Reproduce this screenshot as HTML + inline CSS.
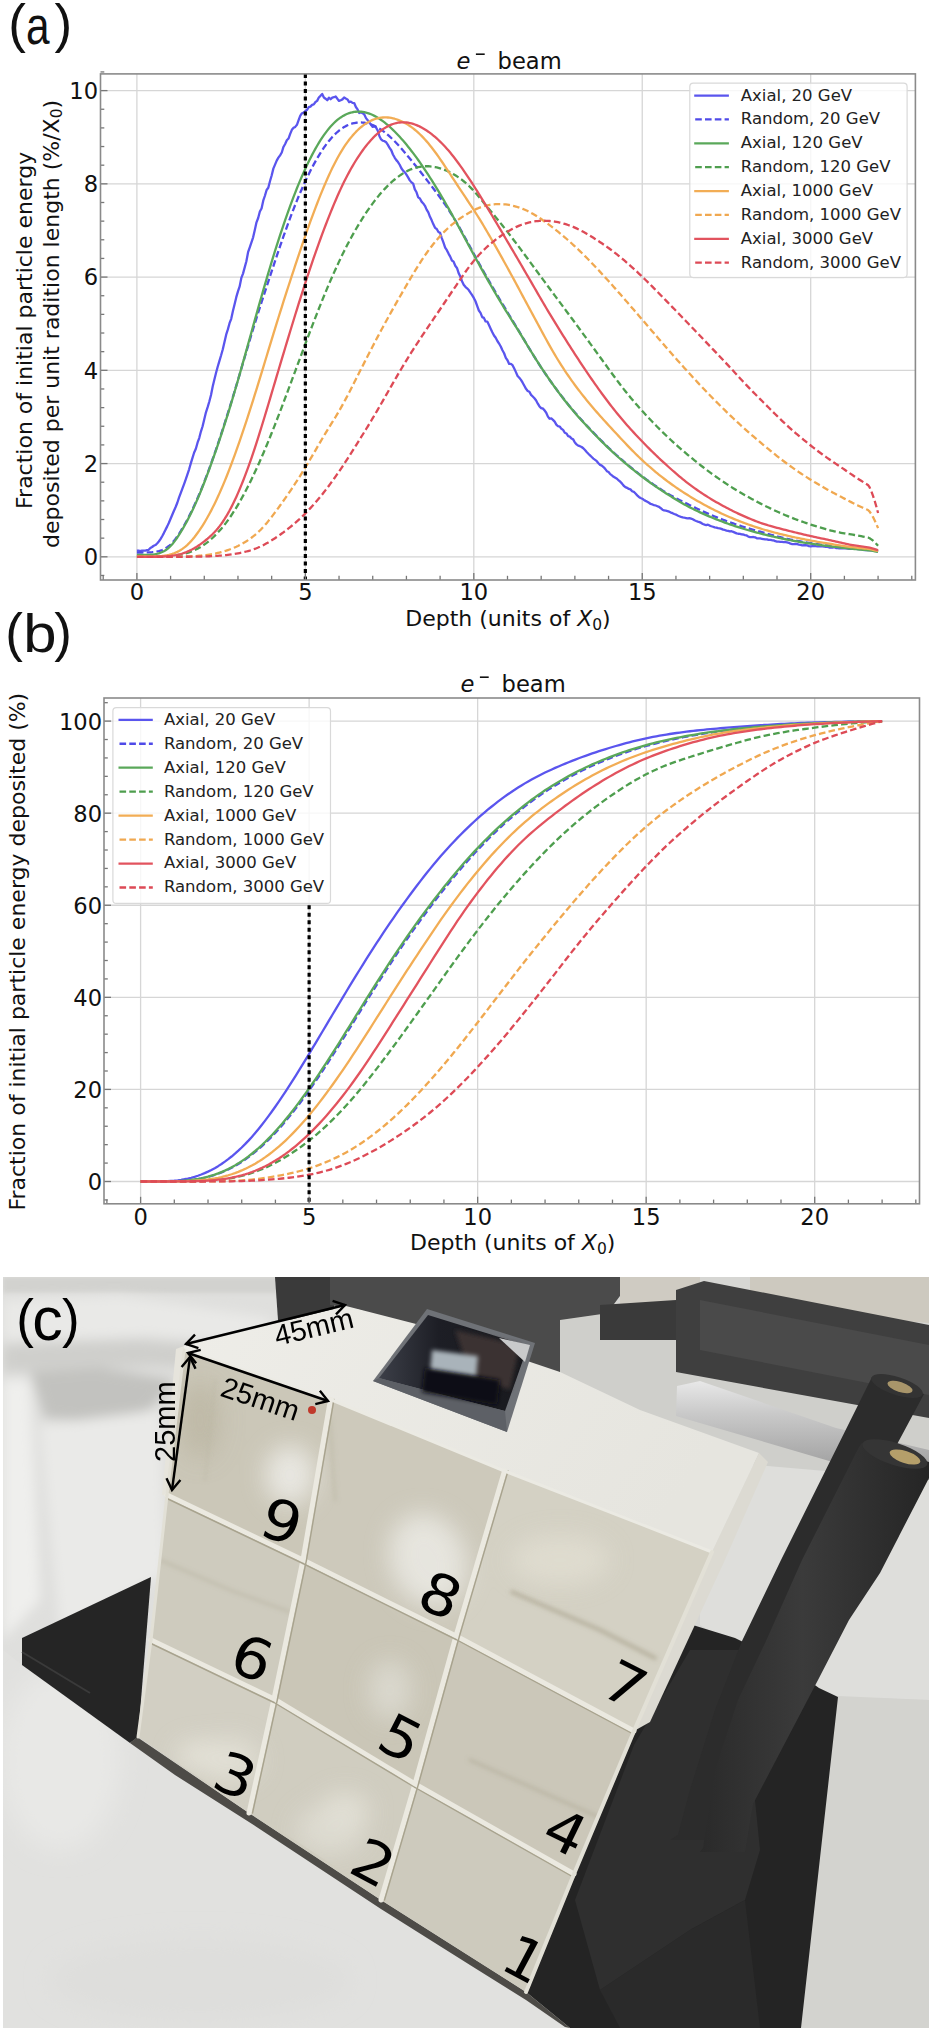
<!DOCTYPE html>
<html><head><meta charset="utf-8"><style>
html,body{margin:0;padding:0;background:#fff;}
body{width:932px;height:2031px;overflow:hidden;}
svg{display:block;}
.tk{font-family:"DejaVu Sans",sans-serif;font-size:22.6px;fill:#111;}
.lg{font-family:"DejaVu Sans",sans-serif;font-size:16.5px;fill:#222;}
.yl{font-size:22px;}
.pl{font-family:"Liberation Sans",Arial,sans-serif;font-size:53px;fill:#111;}
</style></head><body>
<svg width="932" height="2031" viewBox="0 0 932 2031">
<defs><clipPath id="ca"><rect x="100.5" y="73.9" width="814.9" height="506.1"/></clipPath><clipPath id="cb"><rect x="104" y="698" width="815.5" height="505.8"/></clipPath></defs>
<text x="8.2" y="42" class="pl">(</text><text x="0" y="0" class="pl" font-size="59" transform="translate(26,44.2) scale(0.8,1)">a</text><text x="54.6" y="42" class="pl">)</text>
<line x1="136.90" y1="73.9" x2="136.90" y2="580.0" stroke="#d6d6d6" stroke-width="1.3"/>
<line x1="305.35" y1="73.9" x2="305.35" y2="580.0" stroke="#d6d6d6" stroke-width="1.3"/>
<line x1="473.80" y1="73.9" x2="473.80" y2="580.0" stroke="#d6d6d6" stroke-width="1.3"/>
<line x1="642.25" y1="73.9" x2="642.25" y2="580.0" stroke="#d6d6d6" stroke-width="1.3"/>
<line x1="810.70" y1="73.9" x2="810.70" y2="580.0" stroke="#d6d6d6" stroke-width="1.3"/>
<line x1="100.5" y1="556.80" x2="915.4" y2="556.80" stroke="#d6d6d6" stroke-width="1.3"/>
<line x1="100.5" y1="463.56" x2="915.4" y2="463.56" stroke="#d6d6d6" stroke-width="1.3"/>
<line x1="100.5" y1="370.32" x2="915.4" y2="370.32" stroke="#d6d6d6" stroke-width="1.3"/>
<line x1="100.5" y1="277.08" x2="915.4" y2="277.08" stroke="#d6d6d6" stroke-width="1.3"/>
<line x1="100.5" y1="183.84" x2="915.4" y2="183.84" stroke="#d6d6d6" stroke-width="1.3"/>
<line x1="100.5" y1="90.60" x2="915.4" y2="90.60" stroke="#d6d6d6" stroke-width="1.3"/>
<g clip-path="url(#ca)" fill="none" stroke-width="2.3" stroke-linejoin="round">
<path d="M136.90,550.68 L138.58,550.57 L140.27,551.07 L141.95,550.55 L143.64,550.54 L145.32,550.60 L147.01,550.20 L148.69,549.84 L150.38,548.03 L152.06,547.02 L153.75,545.74 L155.43,545.04 L157.11,543.47 L158.80,541.54 L160.48,539.18 L162.17,536.25 L163.85,533.12 L165.54,529.63 L167.22,526.36 L168.91,522.70 L170.59,518.82 L172.27,514.76 L173.96,510.80 L175.64,507.03 L177.33,502.74 L179.01,497.61 L180.70,493.03 L182.38,488.57 L184.07,484.08 L185.75,479.39 L187.44,474.39 L189.12,469.31 L190.80,463.40 L192.49,457.84 L194.17,452.48 L195.86,448.79 L197.54,442.70 L199.23,438.02 L200.91,431.58 L202.60,426.25 L204.28,419.21 L205.96,412.30 L207.65,407.17 L209.33,401.52 L211.02,394.96 L212.70,386.54 L214.39,379.45 L216.07,372.70 L217.76,366.47 L219.44,360.80 L221.12,355.27 L222.81,349.19 L224.49,341.91 L226.18,334.71 L227.86,329.41 L229.55,323.21 L231.23,318.79 L232.92,310.99 L234.60,304.32 L236.29,297.15 L237.97,291.36 L239.65,286.37 L241.34,277.91 L243.02,273.58 L244.71,267.34 L246.39,261.23 L248.08,252.23 L249.76,247.32 L251.45,242.44 L253.13,237.27 L254.81,230.01 L256.50,222.34 L258.18,218.03 L259.87,211.56 L261.55,208.45 L263.24,200.70 L264.92,195.75 L266.61,189.97 L268.29,187.77 L269.98,181.30 L271.66,175.50 L273.34,168.61 L275.03,164.60 L276.71,160.61 L278.40,157.67 L280.08,155.38 L281.77,152.52 L283.45,146.95 L285.14,143.95 L286.82,140.32 L288.50,138.56 L290.19,133.89 L291.87,129.82 L293.56,127.82 L295.24,126.89 L296.93,124.85 L298.61,120.19 L300.30,115.63 L301.98,113.28 L303.67,112.64 L305.35,111.17 L307.03,109.81 L308.72,107.13 L310.40,106.60 L312.09,104.85 L313.77,104.40 L315.46,102.02 L317.14,100.88 L318.83,97.52 L320.51,95.83 L322.19,93.96 L323.88,97.54 L325.56,98.72 L327.25,100.27 L328.93,97.67 L330.62,99.29 L332.30,97.64 L333.99,97.23 L335.67,96.54 L337.36,98.80 L339.04,100.91 L340.72,100.21 L342.41,99.37 L344.09,97.52 L345.78,98.59 L347.46,99.42 L349.15,102.19 L350.83,101.56 L352.52,102.82 L354.20,103.05 L355.88,107.04 L357.57,109.39 L359.25,112.95 L360.94,112.25 L362.62,113.19 L364.31,114.50 L365.99,118.12 L367.68,120.16 L369.36,122.47 L371.05,124.89 L372.73,126.93 L374.41,126.13 L376.10,127.63 L377.78,130.73 L379.47,136.23 L381.15,139.45 L382.84,140.74 L384.52,141.20 L386.21,142.32 L387.89,144.87 L389.57,147.95 L391.26,150.29 L392.94,154.47 L394.63,157.52 L396.31,160.12 L398.00,162.06 L399.68,164.74 L401.37,168.29 L403.05,170.63 L404.74,172.22 L406.42,174.68 L408.10,177.40 L409.79,180.37 L411.47,182.38 L413.16,183.70 L414.84,189.39 L416.53,192.27 L418.21,197.36 L419.90,198.47 L421.58,201.66 L423.26,203.42 L424.95,205.80 L426.63,209.64 L428.32,212.39 L430.00,216.83 L431.69,220.35 L433.37,224.34 L435.06,227.84 L436.74,229.01 L438.43,232.06 L440.11,232.84 L441.79,238.08 L443.48,242.59 L445.16,247.66 L446.85,250.19 L448.53,253.59 L450.22,256.61 L451.90,260.48 L453.59,261.65 L455.27,265.77 L456.95,267.95 L458.64,273.13 L460.32,276.51 L462.01,281.20 L463.69,284.77 L465.38,286.82 L467.06,288.28 L468.75,290.06 L470.43,292.63 L472.12,295.06 L473.80,297.92 L475.48,301.25 L477.17,305.90 L478.85,310.51 L480.54,312.88 L482.22,317.09 L483.91,317.88 L485.59,321.41 L487.28,321.61 L488.96,325.09 L490.64,328.65 L492.33,332.18 L494.01,335.49 L495.70,337.80 L497.38,341.00 L499.07,343.55 L500.75,346.52 L502.44,350.27 L504.12,353.26 L505.81,357.94 L507.49,360.21 L509.17,363.95 L510.86,363.78 L512.54,365.22 L514.23,368.59 L515.91,372.12 L517.60,376.00 L519.28,377.73 L520.97,379.90 L522.65,382.68 L524.33,385.75 L526.02,388.83 L527.70,390.94 L529.39,391.73 L531.07,394.84 L532.76,396.52 L534.44,398.29 L536.13,400.47 L537.81,403.67 L539.50,406.46 L541.18,408.16 L542.86,408.50 L544.55,410.39 L546.23,412.78 L547.92,416.60 L549.60,418.75 L551.29,418.39 L552.97,419.89 L554.66,421.62 L556.34,424.60 L558.02,426.24 L559.71,426.53 L561.39,428.82 L563.08,429.89 L564.76,432.73 L566.45,433.49 L568.13,436.13 L569.82,436.63 L571.50,438.55 L573.19,439.36 L574.87,442.47 L576.55,444.37 L578.24,445.64 L579.92,446.17 L581.61,446.97 L583.29,448.25 L584.98,450.01 L586.66,451.99 L588.35,453.77 L590.03,455.41 L591.71,457.03 L593.40,458.62 L595.08,459.82 L596.77,461.17 L598.45,463.18 L600.14,464.92 L601.82,465.64 L603.51,467.04 L605.19,468.85 L606.88,471.17 L608.56,471.99 L610.24,474.14 L611.93,475.36 L613.61,476.79 L615.30,477.80 L616.98,478.79 L618.67,480.46 L620.35,481.77 L622.04,483.64 L623.72,485.75 L625.40,487.09 L627.09,487.84 L628.77,488.91 L630.46,489.37 L632.14,491.23 L633.83,491.82 L635.51,493.57 L637.20,495.37 L638.88,496.95 L640.57,497.97 L642.25,498.69 L643.93,499.93 L645.62,500.87 L647.30,501.71 L648.99,502.75 L650.67,503.97 L652.36,504.47 L654.04,505.04 L655.73,505.51 L657.41,506.20 L659.09,506.92 L660.78,508.23 L662.46,509.70 L664.15,510.46 L665.83,510.72 L667.52,511.07 L669.20,511.63 L670.89,512.58 L672.57,513.20 L674.26,514.03 L675.94,514.58 L677.62,515.48 L679.31,516.25 L680.99,516.83 L682.68,517.32 L684.36,517.73 L686.05,518.02 L687.73,518.36 L689.42,518.10 L691.10,518.61 L692.78,519.29 L694.47,520.31 L696.15,521.00 L697.84,521.59 L699.52,522.10 L701.21,522.91 L702.89,523.98 L704.58,524.61 L706.26,525.13 L707.95,524.73 L709.63,525.58 L711.31,526.23 L713.00,526.75 L714.68,527.36 L716.37,527.58 L718.05,528.10 L719.74,528.35 L721.42,528.89 L723.11,529.65 L724.79,529.97 L726.47,530.59 L728.16,530.93 L729.84,531.44 L731.53,531.22 L733.21,531.85 L734.90,532.58 L736.58,533.33 L738.27,533.76 L739.95,533.91 L741.64,534.43 L743.32,534.49 L745.00,535.07 L746.69,535.49 L748.37,536.64 L750.06,537.05 L751.74,537.06 L753.43,537.02 L755.11,537.33 L756.80,538.24 L758.48,538.31 L760.16,538.46 L761.85,538.78 L763.53,539.08 L765.22,539.38 L766.90,539.29 L768.59,539.87 L770.27,539.86 L771.96,540.24 L773.64,540.42 L775.33,541.18 L777.01,541.61 L778.69,541.68 L780.38,541.90 L782.06,541.89 L783.75,542.21 L785.43,542.12 L787.12,542.43 L788.80,542.80 L790.49,543.72 L792.17,544.06 L793.85,544.11 L795.54,543.89 L797.22,544.05 L798.91,544.53 L800.59,544.84 L802.28,545.36 L803.96,545.17 L805.65,545.25 L807.33,545.34 L809.02,546.09 L810.70,546.33 L812.38,546.10 L814.07,545.89 L815.75,546.18 L817.44,546.34 L819.12,546.29 L820.81,546.09 L822.49,546.37 L824.18,546.58 L825.86,546.81 L827.54,546.95 L829.23,547.49 L830.91,547.41 L832.60,547.65 L834.28,547.18 L835.97,548.03 L837.65,548.04 L839.34,548.36 L841.02,548.11 L842.71,548.25 L844.39,548.39 L846.07,548.29 L847.76,548.59 L849.44,548.87 L851.13,548.86 L852.81,548.57 L854.50,548.61 L856.18,548.90 L857.87,549.21 L859.55,549.10 L861.23,549.42 L862.92,549.83 L864.60,550.10 L866.29,550.19 L867.97,550.11 L869.66,550.26 L871.34,550.12 L873.03,550.44 L874.71,550.54 L876.40,551.28 L878.08,551.35" stroke="#5a55ee"/>
<path d="M136.90,552.48 L138.58,552.48 L140.27,552.48 L141.95,552.48 L143.64,552.47 L145.32,552.45 L147.01,552.42 L148.69,552.37 L150.38,552.28 L152.06,552.16 L153.75,551.99 L155.43,551.76 L157.11,551.46 L158.80,551.08 L160.48,550.60 L162.17,549.99 L163.85,549.25 L165.54,548.35 L167.22,547.27 L168.91,545.99 L170.59,544.50 L172.27,542.78 L173.96,540.85 L175.64,538.70 L177.33,536.36 L179.01,533.86 L180.70,531.21 L182.38,528.43 L184.07,525.53 L185.75,522.52 L187.44,519.39 L189.12,516.15 L190.80,512.80 L192.49,509.33 L194.17,505.75 L195.86,502.04 L197.54,498.22 L199.23,494.29 L200.91,490.23 L202.60,486.07 L204.28,481.80 L205.96,477.43 L207.65,472.96 L209.33,468.39 L211.02,463.74 L212.70,459.00 L214.39,454.18 L216.07,449.29 L217.76,444.32 L219.44,439.29 L221.12,434.19 L222.81,429.03 L224.49,423.81 L226.18,418.53 L227.86,413.18 L229.55,407.78 L231.23,402.33 L232.92,396.82 L234.60,391.26 L236.29,385.65 L237.97,380.01 L239.65,374.33 L241.34,368.64 L243.02,362.93 L244.71,357.22 L246.39,351.52 L248.08,345.83 L249.76,340.18 L251.45,334.58 L253.13,329.02 L254.81,323.53 L256.50,318.10 L258.18,312.74 L259.87,307.44 L261.55,302.20 L263.24,297.00 L264.92,291.84 L266.61,286.70 L268.29,281.58 L269.98,276.47 L271.66,271.36 L273.34,266.28 L275.03,261.21 L276.71,256.18 L278.40,251.18 L280.08,246.23 L281.77,241.33 L283.45,236.49 L285.14,231.72 L286.82,227.03 L288.50,222.41 L290.19,217.87 L291.87,213.42 L293.56,209.06 L295.24,204.80 L296.93,200.62 L298.61,196.54 L300.30,192.56 L301.98,188.68 L303.67,184.90 L305.35,181.22 L307.03,177.65 L308.72,174.17 L310.40,170.80 L312.09,167.54 L313.77,164.38 L315.46,161.33 L317.14,158.38 L318.83,155.55 L320.51,152.82 L322.19,150.21 L323.88,147.71 L325.56,145.33 L327.25,143.06 L328.93,140.92 L330.62,138.89 L332.30,136.99 L333.99,135.21 L335.67,133.55 L337.36,132.02 L339.04,130.61 L340.72,129.32 L342.41,128.14 L344.09,127.08 L345.78,126.14 L347.46,125.31 L349.15,124.59 L350.83,123.97 L352.52,123.46 L354.20,123.06 L355.88,122.76 L357.57,122.56 L359.25,122.46 L360.94,122.46 L362.62,122.55 L364.31,122.75 L365.99,123.03 L367.68,123.42 L369.36,123.89 L371.05,124.46 L372.73,125.12 L374.41,125.87 L376.10,126.71 L377.78,127.64 L379.47,128.65 L381.15,129.75 L382.84,130.93 L384.52,132.19 L386.21,133.53 L387.89,134.94 L389.57,136.43 L391.26,137.99 L392.94,139.61 L394.63,141.29 L396.31,143.03 L398.00,144.83 L399.68,146.67 L401.37,148.56 L403.05,150.48 L404.74,152.44 L406.42,154.43 L408.10,156.45 L409.79,158.49 L411.47,160.55 L413.16,162.63 L414.84,164.72 L416.53,166.83 L418.21,168.95 L419.90,171.08 L421.58,173.22 L423.26,175.37 L424.95,177.53 L426.63,179.70 L428.32,181.88 L430.00,184.07 L431.69,186.27 L433.37,188.49 L435.06,190.72 L436.74,192.96 L438.43,195.24 L440.11,197.54 L441.79,199.87 L443.48,202.24 L445.16,204.66 L446.85,207.13 L448.53,209.66 L450.22,212.25 L451.90,214.90 L453.59,217.62 L455.27,220.40 L456.95,223.24 L458.64,226.14 L460.32,229.10 L462.01,232.10 L463.69,235.14 L465.38,238.20 L467.06,241.29 L468.75,244.39 L470.43,247.50 L472.12,250.61 L473.80,253.71 L475.48,256.80 L477.17,259.88 L478.85,262.95 L480.54,265.99 L482.22,269.02 L483.91,272.03 L485.59,275.02 L487.28,277.99 L488.96,280.94 L490.64,283.87 L492.33,286.78 L494.01,289.68 L495.70,292.55 L497.38,295.41 L499.07,298.26 L500.75,301.08 L502.44,303.89 L504.12,306.69 L505.81,309.48 L507.49,312.25 L509.17,315.02 L510.86,317.78 L512.54,320.55 L514.23,323.32 L515.91,326.10 L517.60,328.90 L519.28,331.71 L520.97,334.53 L522.65,337.37 L524.33,340.21 L526.02,343.05 L527.70,345.88 L529.39,348.69 L531.07,351.49 L532.76,354.25 L534.44,356.97 L536.13,359.66 L537.81,362.32 L539.50,364.93 L541.18,367.51 L542.86,370.05 L544.55,372.55 L546.23,375.02 L547.92,377.46 L549.60,379.87 L551.29,382.24 L552.97,384.59 L554.66,386.91 L556.34,389.19 L558.02,391.45 L559.71,393.68 L561.39,395.89 L563.08,398.06 L564.76,400.20 L566.45,402.32 L568.13,404.40 L569.82,406.45 L571.50,408.48 L573.19,410.47 L574.87,412.43 L576.55,414.37 L578.24,416.28 L579.92,418.16 L581.61,420.02 L583.29,421.86 L584.98,423.69 L586.66,425.49 L588.35,427.29 L590.03,429.07 L591.71,430.84 L593.40,432.59 L595.08,434.34 L596.77,436.07 L598.45,437.79 L600.14,439.49 L601.82,441.18 L603.51,442.85 L605.19,444.50 L606.88,446.14 L608.56,447.75 L610.24,449.35 L611.93,450.92 L613.61,452.48 L615.30,454.01 L616.98,455.52 L618.67,457.02 L620.35,458.49 L622.04,459.95 L623.72,461.40 L625.40,462.83 L627.09,464.25 L628.77,465.65 L630.46,467.04 L632.14,468.42 L633.83,469.78 L635.51,471.13 L637.20,472.46 L638.88,473.78 L640.57,475.08 L642.25,476.36 L643.93,477.63 L645.62,478.88 L647.30,480.12 L648.99,481.33 L650.67,482.53 L652.36,483.71 L654.04,484.87 L655.73,486.02 L657.41,487.14 L659.09,488.25 L660.78,489.33 L662.46,490.40 L664.15,491.45 L665.83,492.47 L667.52,493.48 L669.20,494.46 L670.89,495.42 L672.57,496.36 L674.26,497.28 L675.94,498.18 L677.62,499.07 L679.31,499.94 L680.99,500.79 L682.68,501.64 L684.36,502.48 L686.05,503.31 L687.73,504.13 L689.42,504.96 L691.10,505.78 L692.78,506.59 L694.47,507.40 L696.15,508.20 L697.84,509.00 L699.52,509.78 L701.21,510.56 L702.89,511.33 L704.58,512.09 L706.26,512.84 L707.95,513.58 L709.63,514.31 L711.31,515.03 L713.00,515.74 L714.68,516.44 L716.37,517.12 L718.05,517.80 L719.74,518.46 L721.42,519.12 L723.11,519.77 L724.79,520.40 L726.47,521.03 L728.16,521.64 L729.84,522.25 L731.53,522.84 L733.21,523.43 L734.90,524.01 L736.58,524.58 L738.27,525.14 L739.95,525.69 L741.64,526.23 L743.32,526.76 L745.00,527.29 L746.69,527.80 L748.37,528.31 L750.06,528.81 L751.74,529.31 L753.43,529.80 L755.11,530.28 L756.80,530.76 L758.48,531.24 L760.16,531.71 L761.85,532.18 L763.53,532.65 L765.22,533.12 L766.90,533.59 L768.59,534.06 L770.27,534.52 L771.96,534.99 L773.64,535.45 L775.33,535.90 L777.01,536.34 L778.69,536.78 L780.38,537.20 L782.06,537.62 L783.75,538.02 L785.43,538.41 L787.12,538.79 L788.80,539.16 L790.49,539.52 L792.17,539.87 L793.85,540.21 L795.54,540.54 L797.22,540.87 L798.91,541.18 L800.59,541.49 L802.28,541.79 L803.96,542.08 L805.65,542.36 L807.33,542.64 L809.02,542.91 L810.70,543.18 L812.38,543.44 L814.07,543.69 L815.75,543.94 L817.44,544.18 L819.12,544.41 L820.81,544.64 L822.49,544.86 L824.18,545.08 L825.86,545.28 L827.54,545.48 L829.23,545.68 L830.91,545.86 L832.60,546.04 L834.28,546.22 L835.97,546.38 L837.65,546.54 L839.34,546.70 L841.02,546.86 L842.71,547.02 L844.39,547.18 L846.07,547.34 L847.76,547.51 L849.44,547.68 L851.13,547.86 L852.81,548.03 L854.50,548.21 L856.18,548.38 L857.87,548.54 L859.55,548.71 L861.23,548.87 L862.92,549.02 L864.60,549.17 L866.29,549.31 L867.97,549.45 L869.66,549.65 L871.34,549.90 L873.03,550.18 L874.71,550.48 L876.40,550.80 L878.08,551.14" stroke="#4f4ae8" stroke-dasharray="6.6 3.2"/>
<path d="M136.90,554.95 L138.58,554.95 L140.27,554.95 L141.95,554.94 L143.64,554.93 L145.32,554.91 L147.01,554.87 L148.69,554.81 L150.38,554.72 L152.06,554.58 L153.75,554.38 L155.43,554.11 L157.11,553.76 L158.80,553.31 L160.48,552.74 L162.17,552.05 L163.85,551.20 L165.54,550.19 L167.22,548.99 L168.91,547.59 L170.59,545.98 L172.27,544.16 L173.96,542.12 L175.64,539.89 L177.33,537.48 L179.01,534.93 L180.70,532.24 L182.38,529.43 L184.07,526.51 L185.75,523.48 L187.44,520.34 L189.12,517.08 L190.80,513.71 L192.49,510.23 L194.17,506.62 L195.86,502.89 L197.54,499.05 L199.23,495.09 L200.91,491.01 L202.60,486.83 L204.28,482.54 L205.96,478.15 L207.65,473.67 L209.33,469.10 L211.02,464.45 L212.70,459.72 L214.39,454.92 L216.07,450.05 L217.76,445.12 L219.44,440.12 L221.12,435.06 L222.81,429.92 L224.49,424.71 L226.18,419.43 L227.86,414.06 L229.55,408.62 L231.23,403.09 L232.92,397.47 L234.60,391.78 L236.29,386.02 L237.97,380.20 L239.65,374.31 L241.34,368.37 L243.02,362.40 L244.71,356.39 L246.39,350.35 L248.08,344.30 L249.76,338.25 L251.45,332.19 L253.13,326.14 L254.81,320.11 L256.50,314.10 L258.18,308.12 L259.87,302.17 L261.55,296.26 L263.24,290.40 L264.92,284.58 L266.61,278.82 L268.29,273.11 L269.98,267.47 L271.66,261.90 L273.34,256.39 L275.03,250.96 L276.71,245.61 L278.40,240.33 L280.08,235.14 L281.77,230.04 L283.45,225.02 L285.14,220.09 L286.82,215.26 L288.50,210.52 L290.19,205.88 L291.87,201.33 L293.56,196.89 L295.24,192.54 L296.93,188.30 L298.61,184.17 L300.30,180.13 L301.98,176.21 L303.67,172.38 L305.35,168.67 L307.03,165.06 L308.72,161.57 L310.40,158.18 L312.09,154.90 L313.77,151.74 L315.46,148.68 L317.14,145.75 L318.83,142.93 L320.51,140.22 L322.19,137.64 L323.88,135.17 L325.56,132.83 L327.25,130.62 L328.93,128.52 L330.62,126.56 L332.30,124.72 L333.99,123.01 L335.67,121.43 L337.36,119.97 L339.04,118.64 L340.72,117.43 L342.41,116.35 L344.09,115.38 L345.78,114.53 L347.46,113.79 L349.15,113.17 L350.83,112.66 L352.52,112.25 L354.20,111.95 L355.88,111.75 L357.57,111.65 L359.25,111.65 L360.94,111.75 L362.62,111.95 L364.31,112.23 L365.99,112.62 L367.68,113.09 L369.36,113.65 L371.05,114.30 L372.73,115.04 L374.41,115.86 L376.10,116.76 L377.78,117.74 L379.47,118.81 L381.15,119.95 L382.84,121.16 L384.52,122.44 L386.21,123.80 L387.89,125.22 L389.57,126.70 L391.26,128.25 L392.94,129.85 L394.63,131.51 L396.31,133.23 L398.00,135.00 L399.68,136.82 L401.37,138.69 L403.05,140.61 L404.74,142.58 L406.42,144.60 L408.10,146.66 L409.79,148.77 L411.47,150.93 L413.16,153.13 L414.84,155.38 L416.53,157.67 L418.21,160.01 L419.90,162.39 L421.58,164.81 L423.26,167.28 L424.95,169.78 L426.63,172.32 L428.32,174.90 L430.00,177.51 L431.69,180.16 L433.37,182.84 L435.06,185.56 L436.74,188.31 L438.43,191.09 L440.11,193.90 L441.79,196.74 L443.48,199.62 L445.16,202.52 L446.85,205.45 L448.53,208.42 L450.22,211.40 L451.90,214.42 L453.59,217.46 L455.27,220.52 L456.95,223.60 L458.64,226.70 L460.32,229.81 L462.01,232.93 L463.69,236.06 L465.38,239.19 L467.06,242.32 L468.75,245.45 L470.43,248.57 L472.12,251.68 L473.80,254.78 L475.48,257.88 L477.17,260.95 L478.85,264.02 L480.54,267.07 L482.22,270.10 L483.91,273.12 L485.59,276.12 L487.28,279.10 L488.96,282.07 L490.64,285.02 L492.33,287.94 L494.01,290.85 L495.70,293.73 L497.38,296.59 L499.07,299.43 L500.75,302.24 L502.44,305.02 L504.12,307.79 L505.81,310.53 L507.49,313.25 L509.17,315.95 L510.86,318.64 L512.54,321.33 L514.23,324.02 L515.91,326.72 L517.60,329.43 L519.28,332.16 L520.97,334.90 L522.65,337.66 L524.33,340.43 L526.02,343.21 L527.70,345.98 L529.39,348.74 L531.07,351.48 L532.76,354.20 L534.44,356.90 L536.13,359.57 L537.81,362.21 L539.50,364.82 L541.18,367.39 L542.86,369.94 L544.55,372.46 L546.23,374.95 L547.92,377.41 L549.60,379.84 L551.29,382.24 L552.97,384.62 L554.66,386.96 L556.34,389.28 L558.02,391.57 L559.71,393.83 L561.39,396.06 L563.08,398.26 L564.76,400.44 L566.45,402.58 L568.13,404.68 L569.82,406.76 L571.50,408.80 L573.19,410.81 L574.87,412.78 L576.55,414.73 L578.24,416.64 L579.92,418.53 L581.61,420.39 L583.29,422.23 L584.98,424.05 L586.66,425.86 L588.35,427.65 L590.03,429.43 L591.71,431.20 L593.40,432.96 L595.08,434.70 L596.77,436.44 L598.45,438.16 L600.14,439.87 L601.82,441.57 L603.51,443.25 L605.19,444.92 L606.88,446.56 L608.56,448.19 L610.24,449.79 L611.93,451.38 L613.61,452.94 L615.30,454.48 L616.98,456.00 L618.67,457.50 L620.35,458.98 L622.04,460.44 L623.72,461.88 L625.40,463.30 L627.09,464.71 L628.77,466.11 L630.46,467.49 L632.14,468.85 L633.83,470.21 L635.51,471.54 L637.20,472.87 L638.88,474.18 L640.57,475.48 L642.25,476.76 L643.93,478.03 L645.62,479.28 L647.30,480.52 L648.99,481.74 L650.67,482.95 L652.36,484.14 L654.04,485.32 L655.73,486.48 L657.41,487.63 L659.09,488.77 L660.78,489.89 L662.46,491.00 L664.15,492.10 L665.83,493.19 L667.52,494.27 L669.20,495.33 L670.89,496.38 L672.57,497.43 L674.26,498.46 L675.94,499.48 L677.62,500.49 L679.31,501.48 L680.99,502.46 L682.68,503.43 L684.36,504.38 L686.05,505.31 L687.73,506.22 L689.42,507.11 L691.10,507.99 L692.78,508.84 L694.47,509.68 L696.15,510.51 L697.84,511.32 L699.52,512.11 L701.21,512.89 L702.89,513.66 L704.58,514.41 L706.26,515.15 L707.95,515.88 L709.63,516.59 L711.31,517.30 L713.00,517.99 L714.68,518.68 L716.37,519.35 L718.05,520.01 L719.74,520.66 L721.42,521.30 L723.11,521.93 L724.79,522.55 L726.47,523.16 L728.16,523.75 L729.84,524.34 L731.53,524.92 L733.21,525.50 L734.90,526.06 L736.58,526.61 L738.27,527.15 L739.95,527.69 L741.64,528.21 L743.32,528.73 L745.00,529.24 L746.69,529.74 L748.37,530.23 L750.06,530.71 L751.74,531.19 L753.43,531.65 L755.11,532.12 L756.80,532.57 L758.48,533.01 L760.16,533.45 L761.85,533.88 L763.53,534.31 L765.22,534.73 L766.90,535.14 L768.59,535.55 L770.27,535.95 L771.96,536.34 L773.64,536.73 L775.33,537.11 L777.01,537.48 L778.69,537.85 L780.38,538.21 L782.06,538.56 L783.75,538.91 L785.43,539.25 L787.12,539.58 L788.80,539.91 L790.49,540.23 L792.17,540.55 L793.85,540.86 L795.54,541.16 L797.22,541.46 L798.91,541.75 L800.59,542.04 L802.28,542.32 L803.96,542.60 L805.65,542.87 L807.33,543.14 L809.02,543.40 L810.70,543.65 L812.38,543.91 L814.07,544.15 L815.75,544.39 L817.44,544.63 L819.12,544.86 L820.81,545.09 L822.49,545.32 L824.18,545.54 L825.86,545.75 L827.54,545.97 L829.23,546.17 L830.91,546.38 L832.60,546.58 L834.28,546.78 L835.97,546.98 L837.65,547.17 L839.34,547.36 L841.02,547.56 L842.71,547.75 L844.39,547.94 L846.07,548.13 L847.76,548.31 L849.44,548.50 L851.13,548.68 L852.81,548.85 L854.50,549.02 L856.18,549.19 L857.87,549.35 L859.55,549.51 L861.23,549.66 L862.92,549.81 L864.60,549.95 L866.29,550.09 L867.97,550.23 L869.66,550.43 L871.34,550.67 L873.03,550.95 L874.71,551.25 L876.40,551.58 L878.08,551.92" stroke="#5aa85a"/>
<path d="M136.90,556.33 L138.58,556.33 L140.27,556.33 L141.95,556.33 L143.64,556.33 L145.32,556.33 L147.01,556.33 L148.69,556.33 L150.38,556.33 L152.06,556.33 L153.75,556.33 L155.43,556.33 L157.11,556.33 L158.80,556.32 L160.48,556.32 L162.17,556.30 L163.85,556.27 L165.54,556.23 L167.22,556.17 L168.91,556.09 L170.59,555.98 L172.27,555.85 L173.96,555.68 L175.64,555.48 L177.33,555.24 L179.01,554.96 L180.70,554.64 L182.38,554.28 L184.07,553.88 L185.75,553.42 L187.44,552.92 L189.12,552.36 L190.80,551.75 L192.49,551.08 L194.17,550.35 L195.86,549.55 L197.54,548.70 L199.23,547.77 L200.91,546.77 L202.60,545.71 L204.28,544.57 L205.96,543.36 L207.65,542.07 L209.33,540.70 L211.02,539.26 L212.70,537.74 L214.39,536.14 L216.07,534.46 L217.76,532.70 L219.44,530.85 L221.12,528.92 L222.81,526.91 L224.49,524.80 L226.18,522.61 L227.86,520.33 L229.55,517.97 L231.23,515.51 L232.92,512.96 L234.60,510.33 L236.29,507.61 L237.97,504.81 L239.65,501.91 L241.34,498.94 L243.02,495.88 L244.71,492.75 L246.39,489.53 L248.08,486.24 L249.76,482.87 L251.45,479.43 L253.13,475.91 L254.81,472.33 L256.50,468.67 L258.18,464.95 L259.87,461.17 L261.55,457.32 L263.24,453.42 L264.92,449.45 L266.61,445.43 L268.29,441.36 L269.98,437.23 L271.66,433.05 L273.34,428.82 L275.03,424.55 L276.71,420.24 L278.40,415.89 L280.08,411.50 L281.77,407.09 L283.45,402.64 L285.14,398.18 L286.82,393.69 L288.50,389.19 L290.19,384.67 L291.87,380.14 L293.56,375.61 L295.24,371.07 L296.93,366.53 L298.61,362.00 L300.30,357.46 L301.98,352.94 L303.67,348.42 L305.35,343.92 L307.03,339.43 L308.72,334.97 L310.40,330.53 L312.09,326.11 L313.77,321.73 L315.46,317.37 L317.14,313.06 L318.83,308.79 L320.51,304.56 L322.19,300.38 L323.88,296.25 L325.56,292.17 L327.25,288.15 L328.93,284.18 L330.62,280.28 L332.30,276.43 L333.99,272.64 L335.67,268.91 L337.36,265.24 L339.04,261.63 L340.72,258.09 L342.41,254.61 L344.09,251.20 L345.78,247.85 L347.46,244.57 L349.15,241.36 L350.83,238.22 L352.52,235.14 L354.20,232.14 L355.88,229.20 L357.57,226.33 L359.25,223.52 L360.94,220.78 L362.62,218.11 L364.31,215.50 L365.99,212.95 L367.68,210.46 L369.36,208.04 L371.05,205.68 L372.73,203.39 L374.41,201.15 L376.10,198.98 L377.78,196.88 L379.47,194.84 L381.15,192.87 L382.84,190.96 L384.52,189.12 L386.21,187.35 L387.89,185.65 L389.57,184.01 L391.26,182.44 L392.94,180.94 L394.63,179.50 L396.31,178.14 L398.00,176.84 L399.68,175.62 L401.37,174.46 L403.05,173.38 L404.74,172.37 L406.42,171.44 L408.10,170.58 L409.79,169.81 L411.47,169.11 L413.16,168.48 L414.84,167.94 L416.53,167.47 L418.21,167.08 L419.90,166.77 L421.58,166.52 L423.26,166.36 L424.95,166.26 L426.63,166.23 L428.32,166.26 L430.00,166.37 L431.69,166.54 L433.37,166.77 L435.06,167.06 L436.74,167.42 L438.43,167.84 L440.11,168.31 L441.79,168.85 L443.48,169.44 L445.16,170.10 L446.85,170.81 L448.53,171.58 L450.22,172.41 L451.90,173.30 L453.59,174.25 L455.27,175.26 L456.95,176.33 L458.64,177.47 L460.32,178.67 L462.01,179.93 L463.69,181.27 L465.38,182.67 L467.06,184.16 L468.75,185.73 L470.43,187.38 L472.12,189.11 L473.80,190.93 L475.48,192.82 L477.17,194.77 L478.85,196.77 L480.54,198.80 L482.22,200.85 L483.91,202.90 L485.59,204.94 L487.28,206.98 L488.96,209.01 L490.64,211.05 L492.33,213.08 L494.01,215.12 L495.70,217.17 L497.38,219.23 L499.07,221.30 L500.75,223.39 L502.44,225.50 L504.12,227.62 L505.81,229.76 L507.49,231.91 L509.17,234.08 L510.86,236.27 L512.54,238.47 L514.23,240.69 L515.91,242.92 L517.60,245.16 L519.28,247.41 L520.97,249.67 L522.65,251.94 L524.33,254.22 L526.02,256.50 L527.70,258.79 L529.39,261.08 L531.07,263.37 L532.76,265.66 L534.44,267.95 L536.13,270.24 L537.81,272.53 L539.50,274.81 L541.18,277.09 L542.86,279.37 L544.55,281.65 L546.23,283.93 L547.92,286.21 L549.60,288.48 L551.29,290.76 L552.97,293.04 L554.66,295.32 L556.34,297.59 L558.02,299.86 L559.71,302.12 L561.39,304.39 L563.08,306.65 L564.76,308.92 L566.45,311.19 L568.13,313.46 L569.82,315.73 L571.50,318.02 L573.19,320.30 L574.87,322.59 L576.55,324.89 L578.24,327.19 L579.92,329.49 L581.61,331.80 L583.29,334.10 L584.98,336.41 L586.66,338.71 L588.35,341.02 L590.03,343.33 L591.71,345.64 L593.40,347.95 L595.08,350.26 L596.77,352.57 L598.45,354.89 L600.14,357.20 L601.82,359.52 L603.51,361.85 L605.19,364.18 L606.88,366.50 L608.56,368.83 L610.24,371.15 L611.93,373.46 L613.61,375.76 L615.30,378.05 L616.98,380.31 L618.67,382.56 L620.35,384.77 L622.04,386.96 L623.72,389.11 L625.40,391.24 L627.09,393.33 L628.77,395.40 L630.46,397.43 L632.14,399.44 L633.83,401.42 L635.51,403.38 L637.20,405.32 L638.88,407.23 L640.57,409.12 L642.25,410.99 L643.93,412.84 L645.62,414.67 L647.30,416.49 L648.99,418.28 L650.67,420.06 L652.36,421.82 L654.04,423.56 L655.73,425.29 L657.41,426.99 L659.09,428.68 L660.78,430.35 L662.46,432.01 L664.15,433.64 L665.83,435.26 L667.52,436.86 L669.20,438.45 L670.89,440.01 L672.57,441.56 L674.26,443.08 L675.94,444.60 L677.62,446.09 L679.31,447.57 L680.99,449.04 L682.68,450.49 L684.36,451.93 L686.05,453.36 L687.73,454.78 L689.42,456.19 L691.10,457.59 L692.78,458.98 L694.47,460.35 L696.15,461.71 L697.84,463.06 L699.52,464.40 L701.21,465.72 L702.89,467.03 L704.58,468.33 L706.26,469.61 L707.95,470.88 L709.63,472.13 L711.31,473.37 L713.00,474.59 L714.68,475.80 L716.37,477.00 L718.05,478.18 L719.74,479.34 L721.42,480.50 L723.11,481.64 L724.79,482.76 L726.47,483.87 L728.16,484.97 L729.84,486.05 L731.53,487.12 L733.21,488.18 L734.90,489.22 L736.58,490.25 L738.27,491.27 L739.95,492.27 L741.64,493.26 L743.32,494.24 L745.00,495.21 L746.69,496.16 L748.37,497.11 L750.06,498.04 L751.74,498.95 L753.43,499.86 L755.11,500.76 L756.80,501.64 L758.48,502.52 L760.16,503.38 L761.85,504.24 L763.53,505.08 L765.22,505.92 L766.90,506.75 L768.59,507.57 L770.27,508.38 L771.96,509.18 L773.64,509.97 L775.33,510.75 L777.01,511.52 L778.69,512.28 L780.38,513.02 L782.06,513.76 L783.75,514.48 L785.43,515.19 L787.12,515.89 L788.80,516.58 L790.49,517.25 L792.17,517.92 L793.85,518.57 L795.54,519.22 L797.22,519.85 L798.91,520.47 L800.59,521.09 L802.28,521.69 L803.96,522.28 L805.65,522.87 L807.33,523.44 L809.02,524.01 L810.70,524.57 L812.38,525.12 L814.07,525.65 L815.75,526.18 L817.44,526.71 L819.12,527.22 L820.81,527.72 L822.49,528.22 L824.18,528.70 L825.86,529.17 L827.54,529.64 L829.23,530.09 L830.91,530.52 L832.60,530.95 L834.28,531.35 L835.97,531.73 L837.65,532.10 L839.34,532.44 L841.02,532.76 L842.71,533.06 L844.39,533.34 L846.07,533.61 L847.76,533.88 L849.44,534.15 L851.13,534.43 L852.81,534.71 L854.50,535.00 L856.18,535.30 L857.87,535.60 L859.55,535.91 L861.23,536.22 L862.92,536.54 L864.60,536.85 L866.29,537.16 L867.97,537.47 L869.66,538.22 L871.34,539.34 L873.03,540.69 L874.71,542.24 L876.40,543.95 L878.08,545.81" stroke="#4e9e4e" stroke-dasharray="6.6 3.2"/>
<path d="M136.90,556.33 L138.58,556.33 L140.27,556.33 L141.95,556.33 L143.64,556.33 L145.32,556.33 L147.01,556.33 L148.69,556.33 L150.38,556.33 L152.06,556.33 L153.75,556.32 L155.43,556.30 L157.11,556.26 L158.80,556.19 L160.48,556.09 L162.17,555.94 L163.85,555.75 L165.54,555.50 L167.22,555.20 L168.91,554.83 L170.59,554.40 L172.27,553.89 L173.96,553.31 L175.64,552.63 L177.33,551.86 L179.01,550.99 L180.70,550.00 L182.38,548.90 L184.07,547.67 L185.75,546.31 L187.44,544.81 L189.12,543.17 L190.80,541.40 L192.49,539.49 L194.17,537.46 L195.86,535.30 L197.54,533.03 L199.23,530.64 L200.91,528.14 L202.60,525.53 L204.28,522.81 L205.96,519.98 L207.65,517.04 L209.33,514.00 L211.02,510.84 L212.70,507.58 L214.39,504.20 L216.07,500.71 L217.76,497.10 L219.44,493.39 L221.12,489.57 L222.81,485.64 L224.49,481.60 L226.18,477.47 L227.86,473.23 L229.55,468.90 L231.23,464.47 L232.92,459.95 L234.60,455.35 L236.29,450.67 L237.97,445.91 L239.65,441.07 L241.34,436.17 L243.02,431.19 L244.71,426.16 L246.39,421.05 L248.08,415.89 L249.76,410.67 L251.45,405.40 L253.13,400.08 L254.81,394.71 L256.50,389.29 L258.18,383.84 L259.87,378.36 L261.55,372.85 L263.24,367.33 L264.92,361.79 L266.61,356.24 L268.29,350.69 L269.98,345.15 L271.66,339.62 L273.34,334.12 L275.03,328.63 L276.71,323.18 L278.40,317.76 L280.08,312.38 L281.77,307.03 L283.45,301.72 L285.14,296.45 L286.82,291.21 L288.50,286.01 L290.19,280.83 L291.87,275.68 L293.56,270.57 L295.24,265.47 L296.93,260.41 L298.61,255.39 L300.30,250.40 L301.98,245.45 L303.67,240.55 L305.35,235.69 L307.03,230.89 L308.72,226.15 L310.40,221.48 L312.09,216.86 L313.77,212.32 L315.46,207.86 L317.14,203.47 L318.83,199.16 L320.51,194.94 L322.19,190.81 L323.88,186.77 L325.56,182.83 L327.25,178.99 L328.93,175.26 L330.62,171.63 L332.30,168.12 L333.99,164.73 L335.67,161.46 L337.36,158.31 L339.04,155.28 L340.72,152.39 L342.41,149.62 L344.09,146.98 L345.78,144.46 L347.46,142.07 L349.15,139.80 L350.83,137.66 L352.52,135.63 L354.20,133.73 L355.88,131.94 L357.57,130.26 L359.25,128.69 L360.94,127.23 L362.62,125.88 L364.31,124.63 L365.99,123.48 L367.68,122.44 L369.36,121.50 L371.05,120.66 L372.73,119.92 L374.41,119.28 L376.10,118.73 L377.78,118.28 L379.47,117.92 L381.15,117.66 L382.84,117.49 L384.52,117.40 L386.21,117.41 L387.89,117.51 L389.57,117.69 L391.26,117.95 L392.94,118.30 L394.63,118.73 L396.31,119.23 L398.00,119.82 L399.68,120.48 L401.37,121.21 L403.05,122.02 L404.74,122.90 L406.42,123.86 L408.10,124.89 L409.79,126.00 L411.47,127.18 L413.16,128.43 L414.84,129.77 L416.53,131.18 L418.21,132.68 L419.90,134.25 L421.58,135.91 L423.26,137.65 L424.95,139.47 L426.63,141.38 L428.32,143.35 L430.00,145.41 L431.69,147.53 L433.37,149.72 L435.06,151.98 L436.74,154.29 L438.43,156.65 L440.11,159.06 L441.79,161.51 L443.48,164.00 L445.16,166.52 L446.85,169.06 L448.53,171.62 L450.22,174.19 L451.90,176.76 L453.59,179.35 L455.27,181.92 L456.95,184.50 L458.64,187.06 L460.32,189.61 L462.01,192.15 L463.69,194.69 L465.38,197.21 L467.06,199.74 L468.75,202.27 L470.43,204.81 L472.12,207.38 L473.80,209.97 L475.48,212.59 L477.17,215.25 L478.85,217.95 L480.54,220.68 L482.22,223.46 L483.91,226.26 L485.59,229.10 L487.28,231.97 L488.96,234.87 L490.64,237.78 L492.33,240.72 L494.01,243.68 L495.70,246.65 L497.38,249.64 L499.07,252.64 L500.75,255.66 L502.44,258.68 L504.12,261.72 L505.81,264.76 L507.49,267.82 L509.17,270.89 L510.86,273.97 L512.54,277.07 L514.23,280.17 L515.91,283.29 L517.60,286.42 L519.28,289.56 L520.97,292.70 L522.65,295.85 L524.33,299.00 L526.02,302.14 L527.70,305.28 L529.39,308.41 L531.07,311.54 L532.76,314.65 L534.44,317.76 L536.13,320.88 L537.81,323.99 L539.50,327.10 L541.18,330.22 L542.86,333.33 L544.55,336.44 L546.23,339.52 L547.92,342.59 L549.60,345.61 L551.29,348.60 L552.97,351.53 L554.66,354.41 L556.34,357.23 L558.02,360.00 L559.71,362.71 L561.39,365.37 L563.08,367.98 L564.76,370.54 L566.45,373.05 L568.13,375.51 L569.82,377.93 L571.50,380.31 L573.19,382.66 L574.87,384.96 L576.55,387.23 L578.24,389.46 L579.92,391.67 L581.61,393.84 L583.29,395.97 L584.98,398.08 L586.66,400.16 L588.35,402.22 L590.03,404.24 L591.71,406.25 L593.40,408.23 L595.08,410.18 L596.77,412.12 L598.45,414.04 L600.14,415.93 L601.82,417.82 L603.51,419.68 L605.19,421.54 L606.88,423.38 L608.56,425.21 L610.24,427.03 L611.93,428.85 L613.61,430.66 L615.30,432.48 L616.98,434.29 L618.67,436.10 L620.35,437.91 L622.04,439.72 L623.72,441.52 L625.40,443.31 L627.09,445.10 L628.77,446.86 L630.46,448.61 L632.14,450.33 L633.83,452.03 L635.51,453.71 L637.20,455.36 L638.88,456.99 L640.57,458.59 L642.25,460.17 L643.93,461.73 L645.62,463.26 L647.30,464.77 L648.99,466.26 L650.67,467.73 L652.36,469.18 L654.04,470.61 L655.73,472.02 L657.41,473.40 L659.09,474.77 L660.78,476.11 L662.46,477.44 L664.15,478.74 L665.83,480.03 L667.52,481.30 L669.20,482.54 L670.89,483.77 L672.57,484.98 L674.26,486.17 L675.94,487.34 L677.62,488.49 L679.31,489.62 L680.99,490.74 L682.68,491.84 L684.36,492.93 L686.05,494.01 L687.73,495.07 L689.42,496.11 L691.10,497.15 L692.78,498.17 L694.47,499.17 L696.15,500.17 L697.84,501.15 L699.52,502.11 L701.21,503.07 L702.89,504.01 L704.58,504.93 L706.26,505.84 L707.95,506.74 L709.63,507.62 L711.31,508.49 L713.00,509.35 L714.68,510.19 L716.37,511.02 L718.05,511.84 L719.74,512.65 L721.42,513.44 L723.11,514.22 L724.79,514.98 L726.47,515.74 L728.16,516.48 L729.84,517.21 L731.53,517.93 L733.21,518.64 L734.90,519.33 L736.58,520.02 L738.27,520.69 L739.95,521.35 L741.64,522.01 L743.32,522.65 L745.00,523.27 L746.69,523.89 L748.37,524.50 L750.06,525.10 L751.74,525.69 L753.43,526.26 L755.11,526.83 L756.80,527.38 L758.48,527.92 L760.16,528.46 L761.85,528.98 L763.53,529.49 L765.22,529.98 L766.90,530.47 L768.59,530.94 L770.27,531.41 L771.96,531.86 L773.64,532.31 L775.33,532.74 L777.01,533.17 L778.69,533.59 L780.38,534.01 L782.06,534.42 L783.75,534.82 L785.43,535.22 L787.12,535.61 L788.80,536.00 L790.49,536.38 L792.17,536.76 L793.85,537.13 L795.54,537.50 L797.22,537.86 L798.91,538.21 L800.59,538.56 L802.28,538.91 L803.96,539.24 L805.65,539.58 L807.33,539.90 L809.02,540.23 L810.70,540.54 L812.38,540.86 L814.07,541.16 L815.75,541.46 L817.44,541.76 L819.12,542.05 L820.81,542.34 L822.49,542.62 L824.18,542.90 L825.86,543.18 L827.54,543.45 L829.23,543.72 L830.91,543.99 L832.60,544.25 L834.28,544.52 L835.97,544.78 L837.65,545.04 L839.34,545.30 L841.02,545.56 L842.71,545.81 L844.39,546.06 L846.07,546.31 L847.76,546.55 L849.44,546.77 L851.13,547.00 L852.81,547.21 L854.50,547.41 L856.18,547.61 L857.87,547.81 L859.55,547.99 L861.23,548.17 L862.92,548.35 L864.60,548.53 L866.29,548.70 L867.97,548.86 L869.66,549.12 L871.34,549.46 L873.03,549.84 L874.71,550.26 L876.40,550.71 L878.08,551.19" stroke="#f2ad55"/>
<path d="M136.90,556.80 L138.58,556.80 L140.27,556.80 L141.95,556.80 L143.64,556.80 L145.32,556.80 L147.01,556.80 L148.69,556.80 L150.38,556.80 L152.06,556.80 L153.75,556.80 L155.43,556.80 L157.11,556.80 L158.80,556.80 L160.48,556.80 L162.17,556.79 L163.85,556.79 L165.54,556.79 L167.22,556.78 L168.91,556.77 L170.59,556.76 L172.27,556.75 L173.96,556.74 L175.64,556.72 L177.33,556.70 L179.01,556.67 L180.70,556.64 L182.38,556.61 L184.07,556.57 L185.75,556.52 L187.44,556.46 L189.12,556.39 L190.80,556.32 L192.49,556.23 L194.17,556.14 L195.86,556.03 L197.54,555.91 L199.23,555.77 L200.91,555.62 L202.60,555.45 L204.28,555.26 L205.96,555.06 L207.65,554.83 L209.33,554.58 L211.02,554.31 L212.70,554.02 L214.39,553.70 L216.07,553.36 L217.76,552.98 L219.44,552.58 L221.12,552.15 L222.81,551.69 L224.49,551.19 L226.18,550.67 L227.86,550.10 L229.55,549.50 L231.23,548.87 L232.92,548.19 L234.60,547.47 L236.29,546.72 L237.97,545.92 L239.65,545.07 L241.34,544.18 L243.02,543.24 L244.71,542.25 L246.39,541.21 L248.08,540.11 L249.76,538.96 L251.45,537.74 L253.13,536.45 L254.81,535.09 L256.50,533.65 L258.18,532.13 L259.87,530.52 L261.55,528.82 L263.24,527.03 L264.92,525.15 L266.61,523.18 L268.29,521.14 L269.98,519.04 L271.66,516.87 L273.34,514.66 L275.03,512.42 L276.71,510.14 L278.40,507.83 L280.08,505.50 L281.77,503.15 L283.45,500.78 L285.14,498.39 L286.82,495.97 L288.50,493.52 L290.19,491.05 L291.87,488.55 L293.56,486.01 L295.24,483.45 L296.93,480.85 L298.61,478.22 L300.30,475.55 L301.98,472.86 L303.67,470.13 L305.35,467.37 L307.03,464.58 L308.72,461.77 L310.40,458.93 L312.09,456.07 L313.77,453.19 L315.46,450.30 L317.14,447.41 L318.83,444.52 L320.51,441.63 L322.19,438.77 L323.88,435.93 L325.56,433.12 L327.25,430.35 L328.93,427.61 L330.62,424.89 L332.30,422.19 L333.99,419.47 L335.67,416.73 L337.36,413.93 L339.04,411.06 L340.72,408.13 L342.41,405.11 L344.09,402.03 L345.78,398.89 L347.46,395.69 L349.15,392.45 L350.83,389.18 L352.52,385.88 L354.20,382.57 L355.88,379.25 L357.57,375.92 L359.25,372.59 L360.94,369.26 L362.62,365.93 L364.31,362.62 L365.99,359.32 L367.68,356.03 L369.36,352.75 L371.05,349.49 L372.73,346.25 L374.41,343.02 L376.10,339.82 L377.78,336.63 L379.47,333.46 L381.15,330.32 L382.84,327.20 L384.52,324.09 L386.21,321.01 L387.89,317.95 L389.57,314.90 L391.26,311.88 L392.94,308.87 L394.63,305.88 L396.31,302.91 L398.00,299.95 L399.68,297.00 L401.37,294.07 L403.05,291.14 L404.74,288.24 L406.42,285.34 L408.10,282.46 L409.79,279.60 L411.47,276.76 L413.16,273.94 L414.84,271.16 L416.53,268.41 L418.21,265.71 L419.90,263.05 L421.58,260.45 L423.26,257.91 L424.95,255.43 L426.63,253.02 L428.32,250.67 L430.00,248.39 L431.69,246.18 L433.37,244.03 L435.06,241.95 L436.74,239.94 L438.43,237.99 L440.11,236.11 L441.79,234.29 L443.48,232.53 L445.16,230.84 L446.85,229.21 L448.53,227.64 L450.22,226.13 L451.90,224.68 L453.59,223.29 L455.27,221.95 L456.95,220.67 L458.64,219.44 L460.32,218.26 L462.01,217.12 L463.69,216.02 L465.38,214.96 L467.06,213.93 L468.75,212.93 L470.43,211.97 L472.12,211.06 L473.80,210.20 L475.48,209.39 L477.17,208.63 L478.85,207.94 L480.54,207.30 L482.22,206.73 L483.91,206.21 L485.59,205.75 L487.28,205.35 L488.96,205.01 L490.64,204.72 L492.33,204.48 L494.01,204.30 L495.70,204.17 L497.38,204.10 L499.07,204.07 L500.75,204.10 L502.44,204.17 L504.12,204.30 L505.81,204.47 L507.49,204.69 L509.17,204.96 L510.86,205.28 L512.54,205.65 L514.23,206.06 L515.91,206.52 L517.60,207.03 L519.28,207.58 L520.97,208.18 L522.65,208.83 L524.33,209.53 L526.02,210.28 L527.70,211.07 L529.39,211.92 L531.07,212.81 L532.76,213.74 L534.44,214.73 L536.13,215.75 L537.81,216.82 L539.50,217.93 L541.18,219.07 L542.86,220.24 L544.55,221.44 L546.23,222.66 L547.92,223.90 L549.60,225.15 L551.29,226.43 L552.97,227.72 L554.66,229.03 L556.34,230.36 L558.02,231.70 L559.71,233.07 L561.39,234.46 L563.08,235.87 L564.76,237.30 L566.45,238.75 L568.13,240.22 L569.82,241.72 L571.50,243.24 L573.19,244.78 L574.87,246.34 L576.55,247.92 L578.24,249.52 L579.92,251.14 L581.61,252.78 L583.29,254.44 L584.98,256.12 L586.66,257.81 L588.35,259.52 L590.03,261.24 L591.71,262.99 L593.40,264.74 L595.08,266.51 L596.77,268.29 L598.45,270.09 L600.14,271.90 L601.82,273.72 L603.51,275.55 L605.19,277.39 L606.88,279.24 L608.56,281.10 L610.24,282.97 L611.93,284.85 L613.61,286.74 L615.30,288.63 L616.98,290.54 L618.67,292.45 L620.35,294.36 L622.04,296.28 L623.72,298.21 L625.40,300.14 L627.09,302.08 L628.77,304.02 L630.46,305.97 L632.14,307.92 L633.83,309.87 L635.51,311.82 L637.20,313.78 L638.88,315.74 L640.57,317.70 L642.25,319.66 L643.93,321.62 L645.62,323.58 L647.30,325.54 L648.99,327.50 L650.67,329.45 L652.36,331.41 L654.04,333.36 L655.73,335.32 L657.41,337.27 L659.09,339.22 L660.78,341.16 L662.46,343.10 L664.15,345.04 L665.83,346.98 L667.52,348.91 L669.20,350.83 L670.89,352.76 L672.57,354.67 L674.26,356.59 L675.94,358.49 L677.62,360.39 L679.31,362.29 L680.99,364.18 L682.68,366.05 L684.36,367.93 L686.05,369.79 L687.73,371.65 L689.42,373.50 L691.10,375.34 L692.78,377.17 L694.47,378.99 L696.15,380.81 L697.84,382.61 L699.52,384.41 L701.21,386.20 L702.89,387.97 L704.58,389.74 L706.26,391.50 L707.95,393.25 L709.63,394.99 L711.31,396.72 L713.00,398.44 L714.68,400.15 L716.37,401.85 L718.05,403.54 L719.74,405.22 L721.42,406.89 L723.11,408.55 L724.79,410.19 L726.47,411.83 L728.16,413.45 L729.84,415.07 L731.53,416.67 L733.21,418.26 L734.90,419.84 L736.58,421.41 L738.27,422.96 L739.95,424.51 L741.64,426.04 L743.32,427.56 L745.00,429.08 L746.69,430.58 L748.37,432.07 L750.06,433.55 L751.74,435.02 L753.43,436.48 L755.11,437.93 L756.80,439.37 L758.48,440.80 L760.16,442.22 L761.85,443.64 L763.53,445.05 L765.22,446.45 L766.90,447.85 L768.59,449.23 L770.27,450.62 L771.96,451.99 L773.64,453.35 L775.33,454.70 L777.01,456.04 L778.69,457.37 L780.38,458.68 L782.06,459.97 L783.75,461.25 L785.43,462.52 L787.12,463.76 L788.80,465.00 L790.49,466.21 L792.17,467.42 L793.85,468.60 L795.54,469.78 L797.22,470.94 L798.91,472.08 L800.59,473.22 L802.28,474.34 L803.96,475.44 L805.65,476.54 L807.33,477.62 L809.02,478.69 L810.70,479.75 L812.38,480.79 L814.07,481.82 L815.75,482.84 L817.44,483.85 L819.12,484.85 L820.81,485.83 L822.49,486.81 L824.18,487.77 L825.86,488.71 L827.54,489.65 L829.23,490.58 L830.91,491.49 L832.60,492.40 L834.28,493.30 L835.97,494.19 L837.65,495.07 L839.34,495.96 L841.02,496.84 L842.71,497.73 L844.39,498.61 L846.07,499.50 L847.76,500.38 L849.44,501.25 L851.13,502.12 L852.81,502.97 L854.50,503.81 L856.18,504.64 L857.87,505.45 L859.55,506.24 L861.23,507.02 L862.92,507.79 L864.60,508.54 L866.29,509.28 L867.97,510.01 L869.66,511.68 L871.34,514.13 L873.03,517.08 L874.71,520.43 L876.40,524.13 L878.08,528.14" stroke="#f0a850" stroke-dasharray="6.6 3.2"/>
<path d="M136.90,556.80 L138.58,556.80 L140.27,556.80 L141.95,556.80 L143.64,556.80 L145.32,556.80 L147.01,556.80 L148.69,556.79 L150.38,556.79 L152.06,556.78 L153.75,556.77 L155.43,556.75 L157.11,556.72 L158.80,556.68 L160.48,556.63 L162.17,556.57 L163.85,556.49 L165.54,556.38 L167.22,556.26 L168.91,556.10 L170.59,555.92 L172.27,555.70 L173.96,555.45 L175.64,555.16 L177.33,554.82 L179.01,554.43 L180.70,553.99 L182.38,553.49 L184.07,552.94 L185.75,552.32 L187.44,551.65 L189.12,550.90 L190.80,550.09 L192.49,549.22 L194.17,548.28 L195.86,547.27 L197.54,546.20 L199.23,545.07 L200.91,543.89 L202.60,542.65 L204.28,541.36 L205.96,540.01 L207.65,538.62 L209.33,537.16 L211.02,535.62 L212.70,534.01 L214.39,532.29 L216.07,530.46 L217.76,528.50 L219.44,526.40 L221.12,524.15 L222.81,521.75 L224.49,519.19 L226.18,516.47 L227.86,513.59 L229.55,510.55 L231.23,507.36 L232.92,504.02 L234.60,500.53 L236.29,496.90 L237.97,493.13 L239.65,489.21 L241.34,485.16 L243.02,480.97 L244.71,476.65 L246.39,472.19 L248.08,467.61 L249.76,462.90 L251.45,458.06 L253.13,453.10 L254.81,448.03 L256.50,442.86 L258.18,437.58 L259.87,432.22 L261.55,426.78 L263.24,421.28 L264.92,415.72 L266.61,410.11 L268.29,404.48 L269.98,398.83 L271.66,393.16 L273.34,387.49 L275.03,381.82 L276.71,376.15 L278.40,370.49 L280.08,364.84 L281.77,359.20 L283.45,353.58 L285.14,347.97 L286.82,342.38 L288.50,336.81 L290.19,331.26 L291.87,325.73 L293.56,320.23 L295.24,314.77 L296.93,309.34 L298.61,303.94 L300.30,298.59 L301.98,293.29 L303.67,288.04 L305.35,282.84 L307.03,277.69 L308.72,272.61 L310.40,267.58 L312.09,262.62 L313.77,257.72 L315.46,252.88 L317.14,248.11 L318.83,243.40 L320.51,238.75 L322.19,234.17 L323.88,229.66 L325.56,225.22 L327.25,220.85 L328.93,216.56 L330.62,212.34 L332.30,208.21 L333.99,204.16 L335.67,200.20 L337.36,196.33 L339.04,192.56 L340.72,188.89 L342.41,185.32 L344.09,181.85 L345.78,178.49 L347.46,175.24 L349.15,172.09 L350.83,169.04 L352.52,166.10 L354.20,163.25 L355.88,160.51 L357.57,157.86 L359.25,155.30 L360.94,152.84 L362.62,150.47 L364.31,148.19 L365.99,146.00 L367.68,143.90 L369.36,141.89 L371.05,139.98 L372.73,138.16 L374.41,136.43 L376.10,134.80 L377.78,133.27 L379.47,131.84 L381.15,130.51 L382.84,129.28 L384.52,128.15 L386.21,127.12 L387.89,126.19 L389.57,125.36 L391.26,124.64 L392.94,124.01 L394.63,123.49 L396.31,123.06 L398.00,122.73 L399.68,122.50 L401.37,122.36 L403.05,122.31 L404.74,122.36 L406.42,122.49 L408.10,122.72 L409.79,123.03 L411.47,123.43 L413.16,123.91 L414.84,124.47 L416.53,125.11 L418.21,125.83 L419.90,126.63 L421.58,127.50 L423.26,128.44 L424.95,129.46 L426.63,130.54 L428.32,131.69 L430.00,132.91 L431.69,134.19 L433.37,135.54 L435.06,136.96 L436.74,138.44 L438.43,139.98 L440.11,141.59 L441.79,143.27 L443.48,145.01 L445.16,146.81 L446.85,148.68 L448.53,150.62 L450.22,152.61 L451.90,154.67 L453.59,156.79 L455.27,158.96 L456.95,161.19 L458.64,163.47 L460.32,165.80 L462.01,168.18 L463.69,170.60 L465.38,173.06 L467.06,175.55 L468.75,178.08 L470.43,180.65 L472.12,183.24 L473.80,185.85 L475.48,188.50 L477.17,191.16 L478.85,193.85 L480.54,196.56 L482.22,199.29 L483.91,202.03 L485.59,204.79 L487.28,207.57 L488.96,210.36 L490.64,213.16 L492.33,215.97 L494.01,218.80 L495.70,221.63 L497.38,224.47 L499.07,227.32 L500.75,230.17 L502.44,233.02 L504.12,235.88 L505.81,238.74 L507.49,241.59 L509.17,244.45 L510.86,247.31 L512.54,250.16 L514.23,253.02 L515.91,255.89 L517.60,258.76 L519.28,261.63 L520.97,264.51 L522.65,267.40 L524.33,270.30 L526.02,273.21 L527.70,276.12 L529.39,279.03 L531.07,281.94 L532.76,284.86 L534.44,287.77 L536.13,290.68 L537.81,293.58 L539.50,296.48 L541.18,299.37 L542.86,302.24 L544.55,305.11 L546.23,307.96 L547.92,310.79 L549.60,313.61 L551.29,316.41 L552.97,319.20 L554.66,321.96 L556.34,324.71 L558.02,327.44 L559.71,330.15 L561.39,332.85 L563.08,335.54 L564.76,338.21 L566.45,340.88 L568.13,343.53 L569.82,346.17 L571.50,348.80 L573.19,351.42 L574.87,354.03 L576.55,356.62 L578.24,359.20 L579.92,361.77 L581.61,364.32 L583.29,366.85 L584.98,369.36 L586.66,371.86 L588.35,374.34 L590.03,376.80 L591.71,379.24 L593.40,381.66 L595.08,384.06 L596.77,386.44 L598.45,388.80 L600.14,391.14 L601.82,393.45 L603.51,395.74 L605.19,398.01 L606.88,400.26 L608.56,402.48 L610.24,404.68 L611.93,406.85 L613.61,409.00 L615.30,411.11 L616.98,413.20 L618.67,415.26 L620.35,417.29 L622.04,419.30 L623.72,421.27 L625.40,423.22 L627.09,425.14 L628.77,427.04 L630.46,428.91 L632.14,430.76 L633.83,432.60 L635.51,434.42 L637.20,436.22 L638.88,438.00 L640.57,439.78 L642.25,441.53 L643.93,443.27 L645.62,445.00 L647.30,446.71 L648.99,448.40 L650.67,450.08 L652.36,451.74 L654.04,453.39 L655.73,455.02 L657.41,456.63 L659.09,458.23 L660.78,459.81 L662.46,461.38 L664.15,462.93 L665.83,464.47 L667.52,466.00 L669.20,467.51 L670.89,469.01 L672.57,470.50 L674.26,471.98 L675.94,473.44 L677.62,474.88 L679.31,476.31 L680.99,477.72 L682.68,479.10 L684.36,480.47 L686.05,481.81 L687.73,483.12 L689.42,484.41 L691.10,485.67 L692.78,486.91 L694.47,488.12 L696.15,489.31 L697.84,490.48 L699.52,491.63 L701.21,492.76 L702.89,493.87 L704.58,494.97 L706.26,496.04 L707.95,497.10 L709.63,498.14 L711.31,499.17 L713.00,500.18 L714.68,501.18 L716.37,502.16 L718.05,503.12 L719.74,504.07 L721.42,505.00 L723.11,505.93 L724.79,506.83 L726.47,507.72 L728.16,508.60 L729.84,509.47 L731.53,510.32 L733.21,511.16 L734.90,511.98 L736.58,512.79 L738.27,513.59 L739.95,514.38 L741.64,515.15 L743.32,515.91 L745.00,516.65 L746.69,517.39 L748.37,518.11 L750.06,518.81 L751.74,519.51 L753.43,520.18 L755.11,520.85 L756.80,521.49 L758.48,522.12 L760.16,522.73 L761.85,523.32 L763.53,523.89 L765.22,524.44 L766.90,524.97 L768.59,525.48 L770.27,525.97 L771.96,526.44 L773.64,526.91 L775.33,527.35 L777.01,527.80 L778.69,528.23 L780.38,528.67 L782.06,529.10 L783.75,529.53 L785.43,529.96 L787.12,530.38 L788.80,530.81 L790.49,531.24 L792.17,531.66 L793.85,532.08 L795.54,532.50 L797.22,532.92 L798.91,533.33 L800.59,533.73 L802.28,534.14 L803.96,534.54 L805.65,534.93 L807.33,535.32 L809.02,535.70 L810.70,536.08 L812.38,536.46 L814.07,536.83 L815.75,537.20 L817.44,537.56 L819.12,537.92 L820.81,538.28 L822.49,538.63 L824.18,538.98 L825.86,539.34 L827.54,539.69 L829.23,540.05 L830.91,540.40 L832.60,540.77 L834.28,541.14 L835.97,541.52 L837.65,541.90 L839.34,542.29 L841.02,542.69 L842.71,543.09 L844.39,543.48 L846.07,543.86 L847.76,544.22 L849.44,544.56 L851.13,544.88 L852.81,545.18 L854.50,545.46 L856.18,545.73 L857.87,545.98 L859.55,546.21 L861.23,546.44 L862.92,546.66 L864.60,546.88 L866.29,547.08 L867.97,547.29 L869.66,547.61 L871.34,548.04 L873.03,548.53 L874.71,549.07 L876.40,549.65 L878.08,550.28" stroke="#e2535e"/>
<path d="M136.90,556.80 L138.58,556.80 L140.27,556.80 L141.95,556.80 L143.64,556.80 L145.32,556.80 L147.01,556.80 L148.69,556.80 L150.38,556.80 L152.06,556.80 L153.75,556.80 L155.43,556.80 L157.11,556.80 L158.80,556.80 L160.48,556.80 L162.17,556.80 L163.85,556.80 L165.54,556.80 L167.22,556.80 L168.91,556.80 L170.59,556.80 L172.27,556.79 L173.96,556.79 L175.64,556.79 L177.33,556.79 L179.01,556.78 L180.70,556.78 L182.38,556.77 L184.07,556.76 L185.75,556.75 L187.44,556.74 L189.12,556.73 L190.80,556.71 L192.49,556.69 L194.17,556.67 L195.86,556.65 L197.54,556.62 L199.23,556.58 L200.91,556.55 L202.60,556.50 L204.28,556.46 L205.96,556.40 L207.65,556.34 L209.33,556.27 L211.02,556.20 L212.70,556.11 L214.39,556.02 L216.07,555.92 L217.76,555.80 L219.44,555.68 L221.12,555.54 L222.81,555.39 L224.49,555.23 L226.18,555.05 L227.86,554.86 L229.55,554.66 L231.23,554.43 L232.92,554.19 L234.60,553.93 L236.29,553.65 L237.97,553.35 L239.65,553.03 L241.34,552.69 L243.02,552.32 L244.71,551.92 L246.39,551.50 L248.08,551.04 L249.76,550.56 L251.45,550.03 L253.13,549.47 L254.81,548.87 L256.50,548.23 L258.18,547.54 L259.87,546.80 L261.55,546.01 L263.24,545.18 L264.92,544.29 L266.61,543.36 L268.29,542.39 L269.98,541.39 L271.66,540.35 L273.34,539.28 L275.03,538.19 L276.71,537.06 L278.40,535.92 L280.08,534.74 L281.77,533.55 L283.45,532.32 L285.14,531.07 L286.82,529.79 L288.50,528.47 L290.19,527.13 L291.87,525.75 L293.56,524.33 L295.24,522.88 L296.93,521.40 L298.61,519.87 L300.30,518.31 L301.98,516.71 L303.67,515.07 L305.35,513.39 L307.03,511.67 L308.72,509.91 L310.40,508.12 L312.09,506.28 L313.77,504.40 L315.46,502.48 L317.14,500.53 L318.83,498.53 L320.51,496.49 L322.19,494.41 L323.88,492.29 L325.56,490.13 L327.25,487.93 L328.93,485.69 L330.62,483.42 L332.30,481.11 L333.99,478.76 L335.67,476.37 L337.36,473.96 L339.04,471.51 L340.72,469.03 L342.41,466.52 L344.09,463.98 L345.78,461.42 L347.46,458.83 L349.15,456.22 L350.83,453.58 L352.52,450.93 L354.20,448.26 L355.88,445.57 L357.57,442.87 L359.25,440.17 L360.94,437.46 L362.62,434.74 L364.31,432.01 L365.99,429.27 L367.68,426.53 L369.36,423.76 L371.05,420.98 L372.73,418.17 L374.41,415.33 L376.10,412.47 L377.78,409.58 L379.47,406.68 L381.15,403.76 L382.84,400.82 L384.52,397.88 L386.21,394.93 L387.89,391.99 L389.57,389.04 L391.26,386.10 L392.94,383.16 L394.63,380.24 L396.31,377.33 L398.00,374.44 L399.68,371.57 L401.37,368.72 L403.05,365.89 L404.74,363.09 L406.42,360.32 L408.10,357.58 L409.79,354.87 L411.47,352.20 L413.16,349.55 L414.84,346.94 L416.53,344.35 L418.21,341.79 L419.90,339.24 L421.58,336.72 L423.26,334.21 L424.95,331.70 L426.63,329.20 L428.32,326.71 L430.00,324.22 L431.69,321.72 L433.37,319.23 L435.06,316.73 L436.74,314.23 L438.43,311.74 L440.11,309.24 L441.79,306.74 L443.48,304.24 L445.16,301.74 L446.85,299.25 L448.53,296.75 L450.22,294.26 L451.90,291.76 L453.59,289.27 L455.27,286.78 L456.95,284.29 L458.64,281.81 L460.32,279.33 L462.01,276.87 L463.69,274.43 L465.38,272.03 L467.06,269.67 L468.75,267.36 L470.43,265.12 L472.12,262.94 L473.80,260.85 L475.48,258.83 L477.17,256.89 L478.85,255.02 L480.54,253.23 L482.22,251.51 L483.91,249.84 L485.59,248.24 L487.28,246.70 L488.96,245.21 L490.64,243.76 L492.33,242.37 L494.01,241.02 L495.70,239.71 L497.38,238.45 L499.07,237.22 L500.75,236.03 L502.44,234.88 L504.12,233.77 L505.81,232.70 L507.49,231.66 L509.17,230.67 L510.86,229.72 L512.54,228.81 L514.23,227.95 L515.91,227.13 L517.60,226.37 L519.28,225.65 L520.97,224.99 L522.65,224.38 L524.33,223.81 L526.02,223.30 L527.70,222.84 L529.39,222.42 L531.07,222.05 L532.76,221.73 L534.44,221.46 L536.13,221.23 L537.81,221.05 L539.50,220.91 L541.18,220.82 L542.86,220.77 L544.55,220.76 L546.23,220.79 L547.92,220.87 L549.60,220.99 L551.29,221.15 L552.97,221.35 L554.66,221.60 L556.34,221.88 L558.02,222.20 L559.71,222.57 L561.39,222.97 L563.08,223.42 L564.76,223.90 L566.45,224.42 L568.13,224.99 L569.82,225.59 L571.50,226.24 L573.19,226.92 L574.87,227.64 L576.55,228.41 L578.24,229.21 L579.92,230.05 L581.61,230.93 L583.29,231.84 L584.98,232.78 L586.66,233.75 L588.35,234.74 L590.03,235.76 L591.71,236.79 L593.40,237.84 L595.08,238.91 L596.77,239.99 L598.45,241.08 L600.14,242.20 L601.82,243.32 L603.51,244.47 L605.19,245.64 L606.88,246.82 L608.56,248.03 L610.24,249.27 L611.93,250.52 L613.61,251.81 L615.30,253.11 L616.98,254.44 L618.67,255.79 L620.35,257.16 L622.04,258.56 L623.72,259.97 L625.40,261.41 L627.09,262.87 L628.77,264.34 L630.46,265.83 L632.14,267.34 L633.83,268.87 L635.51,270.41 L637.20,271.97 L638.88,273.54 L640.57,275.13 L642.25,276.74 L643.93,278.35 L645.62,279.99 L647.30,281.63 L648.99,283.29 L650.67,284.96 L652.36,286.64 L654.04,288.33 L655.73,290.04 L657.41,291.75 L659.09,293.47 L660.78,295.20 L662.46,296.93 L664.15,298.66 L665.83,300.39 L667.52,302.13 L669.20,303.86 L670.89,305.59 L672.57,307.33 L674.26,309.06 L675.94,310.79 L677.62,312.53 L679.31,314.27 L680.99,316.01 L682.68,317.75 L684.36,319.50 L686.05,321.24 L687.73,323.00 L689.42,324.75 L691.10,326.50 L692.78,328.26 L694.47,330.02 L696.15,331.78 L697.84,333.54 L699.52,335.30 L701.21,337.06 L702.89,338.82 L704.58,340.58 L706.26,342.34 L707.95,344.10 L709.63,345.87 L711.31,347.63 L713.00,349.39 L714.68,351.16 L716.37,352.92 L718.05,354.69 L719.74,356.46 L721.42,358.23 L723.11,360.01 L724.79,361.80 L726.47,363.59 L728.16,365.39 L729.84,367.19 L731.53,369.01 L733.21,370.83 L734.90,372.66 L736.58,374.50 L738.27,376.33 L739.95,378.17 L741.64,379.99 L743.32,381.81 L745.00,383.61 L746.69,385.39 L748.37,387.16 L750.06,388.90 L751.74,390.63 L753.43,392.35 L755.11,394.05 L756.80,395.74 L758.48,397.43 L760.16,399.11 L761.85,400.79 L763.53,402.47 L765.22,404.15 L766.90,405.83 L768.59,407.52 L770.27,409.21 L771.96,410.89 L773.64,412.58 L775.33,414.25 L777.01,415.91 L778.69,417.56 L780.38,419.19 L782.06,420.80 L783.75,422.39 L785.43,423.97 L787.12,425.52 L788.80,427.05 L790.49,428.57 L792.17,430.07 L793.85,431.55 L795.54,433.01 L797.22,434.46 L798.91,435.89 L800.59,437.31 L802.28,438.71 L803.96,440.10 L805.65,441.47 L807.33,442.83 L809.02,444.18 L810.70,445.52 L812.38,446.84 L814.07,448.15 L815.75,449.44 L817.44,450.72 L819.12,451.99 L820.81,453.24 L822.49,454.48 L824.18,455.71 L825.86,456.92 L827.54,458.11 L829.23,459.30 L830.91,460.46 L832.60,461.62 L834.28,462.76 L835.97,463.89 L837.65,465.02 L839.34,466.15 L841.02,467.27 L842.71,468.41 L844.39,469.55 L846.07,470.70 L847.76,471.86 L849.44,473.02 L851.13,474.17 L852.81,475.32 L854.50,476.45 L856.18,477.57 L857.87,478.67 L859.55,479.76 L861.23,480.83 L862.92,481.88 L864.60,482.92 L866.29,483.94 L867.97,484.94 L869.66,487.46 L871.34,491.22 L873.03,495.78 L874.71,501.00 L876.40,506.78 L878.08,513.06" stroke="#dd4a56" stroke-dasharray="6.6 3.2"/>
</g>
<line x1="305.35" y1="73.90" x2="305.35" y2="580.0" stroke="#000" stroke-width="3.2" stroke-dasharray="4 3.5"/>
<line x1="103.21" y1="580.0" x2="103.21" y2="575.8" stroke="#777" stroke-width="1.3"/>
<line x1="136.90" y1="580.0" x2="136.90" y2="573.0" stroke="#777" stroke-width="1.3"/>
<line x1="170.59" y1="580.0" x2="170.59" y2="575.8" stroke="#777" stroke-width="1.3"/>
<line x1="204.28" y1="580.0" x2="204.28" y2="575.8" stroke="#777" stroke-width="1.3"/>
<line x1="237.97" y1="580.0" x2="237.97" y2="575.8" stroke="#777" stroke-width="1.3"/>
<line x1="271.66" y1="580.0" x2="271.66" y2="575.8" stroke="#777" stroke-width="1.3"/>
<line x1="305.35" y1="580.0" x2="305.35" y2="573.0" stroke="#777" stroke-width="1.3"/>
<line x1="339.04" y1="580.0" x2="339.04" y2="575.8" stroke="#777" stroke-width="1.3"/>
<line x1="372.73" y1="580.0" x2="372.73" y2="575.8" stroke="#777" stroke-width="1.3"/>
<line x1="406.42" y1="580.0" x2="406.42" y2="575.8" stroke="#777" stroke-width="1.3"/>
<line x1="440.11" y1="580.0" x2="440.11" y2="575.8" stroke="#777" stroke-width="1.3"/>
<line x1="473.80" y1="580.0" x2="473.80" y2="573.0" stroke="#777" stroke-width="1.3"/>
<line x1="507.49" y1="580.0" x2="507.49" y2="575.8" stroke="#777" stroke-width="1.3"/>
<line x1="541.18" y1="580.0" x2="541.18" y2="575.8" stroke="#777" stroke-width="1.3"/>
<line x1="574.87" y1="580.0" x2="574.87" y2="575.8" stroke="#777" stroke-width="1.3"/>
<line x1="608.56" y1="580.0" x2="608.56" y2="575.8" stroke="#777" stroke-width="1.3"/>
<line x1="642.25" y1="580.0" x2="642.25" y2="573.0" stroke="#777" stroke-width="1.3"/>
<line x1="675.94" y1="580.0" x2="675.94" y2="575.8" stroke="#777" stroke-width="1.3"/>
<line x1="709.63" y1="580.0" x2="709.63" y2="575.8" stroke="#777" stroke-width="1.3"/>
<line x1="743.32" y1="580.0" x2="743.32" y2="575.8" stroke="#777" stroke-width="1.3"/>
<line x1="777.01" y1="580.0" x2="777.01" y2="575.8" stroke="#777" stroke-width="1.3"/>
<line x1="810.70" y1="580.0" x2="810.70" y2="573.0" stroke="#777" stroke-width="1.3"/>
<line x1="844.39" y1="580.0" x2="844.39" y2="575.8" stroke="#777" stroke-width="1.3"/>
<line x1="878.08" y1="580.0" x2="878.08" y2="575.8" stroke="#777" stroke-width="1.3"/>
<line x1="911.77" y1="580.0" x2="911.77" y2="575.8" stroke="#777" stroke-width="1.3"/>
<line x1="100.5" y1="575.45" x2="104.3" y2="575.45" stroke="#777" stroke-width="1.3"/>
<line x1="100.5" y1="556.80" x2="107.5" y2="556.80" stroke="#777" stroke-width="1.3"/>
<line x1="100.5" y1="538.15" x2="104.3" y2="538.15" stroke="#777" stroke-width="1.3"/>
<line x1="100.5" y1="519.50" x2="104.3" y2="519.50" stroke="#777" stroke-width="1.3"/>
<line x1="100.5" y1="500.86" x2="104.3" y2="500.86" stroke="#777" stroke-width="1.3"/>
<line x1="100.5" y1="482.21" x2="104.3" y2="482.21" stroke="#777" stroke-width="1.3"/>
<line x1="100.5" y1="463.56" x2="107.5" y2="463.56" stroke="#777" stroke-width="1.3"/>
<line x1="100.5" y1="444.91" x2="104.3" y2="444.91" stroke="#777" stroke-width="1.3"/>
<line x1="100.5" y1="426.26" x2="104.3" y2="426.26" stroke="#777" stroke-width="1.3"/>
<line x1="100.5" y1="407.62" x2="104.3" y2="407.62" stroke="#777" stroke-width="1.3"/>
<line x1="100.5" y1="388.97" x2="104.3" y2="388.97" stroke="#777" stroke-width="1.3"/>
<line x1="100.5" y1="370.32" x2="107.5" y2="370.32" stroke="#777" stroke-width="1.3"/>
<line x1="100.5" y1="351.67" x2="104.3" y2="351.67" stroke="#777" stroke-width="1.3"/>
<line x1="100.5" y1="333.02" x2="104.3" y2="333.02" stroke="#777" stroke-width="1.3"/>
<line x1="100.5" y1="314.38" x2="104.3" y2="314.38" stroke="#777" stroke-width="1.3"/>
<line x1="100.5" y1="295.73" x2="104.3" y2="295.73" stroke="#777" stroke-width="1.3"/>
<line x1="100.5" y1="277.08" x2="107.5" y2="277.08" stroke="#777" stroke-width="1.3"/>
<line x1="100.5" y1="258.43" x2="104.3" y2="258.43" stroke="#777" stroke-width="1.3"/>
<line x1="100.5" y1="239.78" x2="104.3" y2="239.78" stroke="#777" stroke-width="1.3"/>
<line x1="100.5" y1="221.14" x2="104.3" y2="221.14" stroke="#777" stroke-width="1.3"/>
<line x1="100.5" y1="202.49" x2="104.3" y2="202.49" stroke="#777" stroke-width="1.3"/>
<line x1="100.5" y1="183.84" x2="107.5" y2="183.84" stroke="#777" stroke-width="1.3"/>
<line x1="100.5" y1="165.19" x2="104.3" y2="165.19" stroke="#777" stroke-width="1.3"/>
<line x1="100.5" y1="146.54" x2="104.3" y2="146.54" stroke="#777" stroke-width="1.3"/>
<line x1="100.5" y1="127.90" x2="104.3" y2="127.90" stroke="#777" stroke-width="1.3"/>
<line x1="100.5" y1="109.25" x2="104.3" y2="109.25" stroke="#777" stroke-width="1.3"/>
<line x1="100.5" y1="90.60" x2="107.5" y2="90.60" stroke="#777" stroke-width="1.3"/>
<line x1="100.5" y1="71.95" x2="104.3" y2="71.95" stroke="#777" stroke-width="1.3"/>
<rect x="100.5" y="73.9" width="814.90" height="506.10" fill="none" stroke="#8a8a8a" stroke-width="1.6"/>
<rect x="689.8" y="83.2" width="217.3" height="194.4" rx="3.5" fill="rgba(255,255,255,0.8)" stroke="#d9d9d9" stroke-width="1.2"/>
<line x1="694.2" y1="95.60" x2="728.9" y2="95.60" stroke="#5a55ee" stroke-width="2.3"/>
<text x="740.8" y="100.50" class="lg">Axial, 20 GeV</text>
<line x1="695.2" y1="119.47" x2="728.9" y2="119.47" stroke="#4f4ae8" stroke-width="2.3" stroke-dasharray="6.6 3.2"/>
<text x="740.8" y="124.37" class="lg">Random, 20 GeV</text>
<line x1="694.2" y1="143.34" x2="728.9" y2="143.34" stroke="#5aa85a" stroke-width="2.3"/>
<text x="740.8" y="148.24" class="lg">Axial, 120 GeV</text>
<line x1="695.2" y1="167.21" x2="728.9" y2="167.21" stroke="#4e9e4e" stroke-width="2.3" stroke-dasharray="6.6 3.2"/>
<text x="740.8" y="172.11" class="lg">Random, 120 GeV</text>
<line x1="694.2" y1="191.08" x2="728.9" y2="191.08" stroke="#f2ad55" stroke-width="2.3"/>
<text x="740.8" y="195.98" class="lg">Axial, 1000 GeV</text>
<line x1="695.2" y1="214.95" x2="728.9" y2="214.95" stroke="#f0a850" stroke-width="2.3" stroke-dasharray="6.6 3.2"/>
<text x="740.8" y="219.85" class="lg">Random, 1000 GeV</text>
<line x1="694.2" y1="238.82" x2="728.9" y2="238.82" stroke="#e2535e" stroke-width="2.3"/>
<text x="740.8" y="243.72" class="lg">Axial, 3000 GeV</text>
<line x1="695.2" y1="262.69" x2="728.9" y2="262.69" stroke="#dd4a56" stroke-width="2.3" stroke-dasharray="6.6 3.2"/>
<text x="740.8" y="267.59" class="lg">Random, 3000 GeV</text>
<text x="136.90" y="600" class="tk" text-anchor="middle">0</text>
<text x="305.35" y="600" class="tk" text-anchor="middle">5</text>
<text x="473.80" y="600" class="tk" text-anchor="middle">10</text>
<text x="642.25" y="600" class="tk" text-anchor="middle">15</text>
<text x="810.70" y="600" class="tk" text-anchor="middle">20</text>
<text x="98.1" y="565.00" class="tk" text-anchor="end">0</text>
<text x="98.1" y="471.76" class="tk" text-anchor="end">2</text>
<text x="98.1" y="378.52" class="tk" text-anchor="end">4</text>
<text x="98.1" y="285.28" class="tk" text-anchor="end">6</text>
<text x="98.1" y="192.04" class="tk" text-anchor="end">8</text>
<text x="98.1" y="98.80" class="tk" text-anchor="end">10</text>
<text x="508" y="626.4" class="tk yl" text-anchor="middle">Depth (units of <tspan font-style="italic">X</tspan><tspan font-size="15.5" dy="3.5">0</tspan><tspan dy="-3.5">)</tspan></text>
<text x="456.6" y="68.6" class="tk" font-style="italic">e</text><rect x="475.9" y="53.4" width="8.8" height="1.6" fill="#111"/><text x="497.6" y="68.6" class="tk">beam</text>
<text transform="translate(31.9,330.4) rotate(-90)" class="tk yl" text-anchor="middle">Fraction of initial particle energy</text>
<text transform="translate(58.7,323.9) rotate(-90)" class="tk yl" text-anchor="middle">deposited per unit radition length (%/X<tspan font-size="15.5" dy="3.5">0</tspan><tspan dy="-3.5">)</tspan></text>
<text x="5.2" y="650.6" class="pl">(</text><text x="0" y="0" class="pl" transform="translate(23.2,652.4) scale(1.13,1.01)">b</text><text x="54.2" y="650.6" class="pl">)</text>
<line x1="140.60" y1="698.0" x2="140.60" y2="1203.8" stroke="#d6d6d6" stroke-width="1.3"/>
<line x1="309.12" y1="698.0" x2="309.12" y2="1203.8" stroke="#d6d6d6" stroke-width="1.3"/>
<line x1="477.65" y1="698.0" x2="477.65" y2="1203.8" stroke="#d6d6d6" stroke-width="1.3"/>
<line x1="646.17" y1="698.0" x2="646.17" y2="1203.8" stroke="#d6d6d6" stroke-width="1.3"/>
<line x1="814.70" y1="698.0" x2="814.70" y2="1203.8" stroke="#d6d6d6" stroke-width="1.3"/>
<line x1="104.0" y1="1181.50" x2="919.5" y2="1181.50" stroke="#d6d6d6" stroke-width="1.3"/>
<line x1="104.0" y1="1089.42" x2="919.5" y2="1089.42" stroke="#d6d6d6" stroke-width="1.3"/>
<line x1="104.0" y1="997.34" x2="919.5" y2="997.34" stroke="#d6d6d6" stroke-width="1.3"/>
<line x1="104.0" y1="905.26" x2="919.5" y2="905.26" stroke="#d6d6d6" stroke-width="1.3"/>
<line x1="104.0" y1="813.18" x2="919.5" y2="813.18" stroke="#d6d6d6" stroke-width="1.3"/>
<line x1="104.0" y1="721.10" x2="919.5" y2="721.10" stroke="#d6d6d6" stroke-width="1.3"/>
<g clip-path="url(#cb)" fill="none" stroke-width="2.3" stroke-linejoin="round">
<path d="M140.60,1181.50 L143.97,1181.50 L147.34,1181.50 L150.71,1181.49 L154.08,1181.47 L157.45,1181.44 L160.82,1181.38 L164.19,1181.27 L167.56,1181.12 L170.93,1180.91 L174.31,1180.63 L177.68,1180.27 L181.05,1179.81 L184.42,1179.25 L187.79,1178.57 L191.16,1177.76 L194.53,1176.83 L197.90,1175.76 L201.27,1174.54 L204.64,1173.17 L208.01,1171.65 L211.38,1169.97 L214.75,1168.14 L218.12,1166.14 L221.49,1163.98 L224.86,1161.66 L228.23,1159.18 L231.60,1156.52 L234.97,1153.69 L238.34,1150.69 L241.71,1147.51 L245.09,1144.15 L248.46,1140.61 L251.83,1136.90 L255.20,1133.01 L258.57,1128.97 L261.94,1124.76 L265.31,1120.41 L268.68,1115.91 L272.05,1111.28 L275.42,1106.52 L278.79,1101.64 L282.16,1096.66 L285.53,1091.57 L288.90,1086.38 L292.27,1081.12 L295.64,1075.77 L299.01,1070.36 L302.38,1064.89 L305.75,1059.36 L309.12,1053.80 L312.50,1048.19 L315.87,1042.56 L319.24,1036.92 L322.61,1031.25 L325.98,1025.58 L329.35,1019.92 L332.72,1014.25 L336.09,1008.60 L339.46,1002.97 L342.83,997.36 L346.20,991.77 L349.57,986.21 L352.94,980.68 L356.31,975.19 L359.68,969.73 L363.05,964.32 L366.42,958.96 L369.79,953.64 L373.16,948.38 L376.53,943.17 L379.91,938.02 L383.28,932.93 L386.65,927.90 L390.02,922.94 L393.39,918.03 L396.76,913.19 L400.13,908.42 L403.50,903.71 L406.87,899.06 L410.24,894.47 L413.61,889.95 L416.98,885.49 L420.35,881.10 L423.72,876.78 L427.09,872.53 L430.46,868.36 L433.83,864.27 L437.20,860.26 L440.57,856.33 L443.94,852.48 L447.32,848.72 L450.69,845.03 L454.06,841.43 L457.43,837.91 L460.80,834.47 L464.17,831.11 L467.54,827.83 L470.91,824.63 L474.28,821.50 L477.65,818.45 L481.02,815.47 L484.39,812.57 L487.76,809.74 L491.13,806.99 L494.50,804.31 L497.87,801.69 L501.24,799.16 L504.61,796.69 L507.98,794.29 L511.36,791.96 L514.73,789.71 L518.10,787.52 L521.47,785.41 L524.84,783.36 L528.21,781.39 L531.58,779.50 L534.95,777.67 L538.32,775.91 L541.69,774.21 L545.06,772.56 L548.43,770.97 L551.80,769.42 L555.17,767.91 L558.54,766.44 L561.91,765.00 L565.28,763.59 L568.65,762.22 L572.02,760.87 L575.39,759.56 L578.76,758.28 L582.14,757.02 L585.51,755.80 L588.88,754.60 L592.25,753.44 L595.62,752.29 L598.99,751.18 L602.36,750.09 L605.73,749.03 L609.10,747.99 L612.47,746.98 L615.84,745.99 L619.21,745.02 L622.58,744.09 L625.95,743.18 L629.32,742.30 L632.69,741.45 L636.06,740.63 L639.43,739.83 L642.80,739.07 L646.17,738.34 L649.55,737.64 L652.92,736.97 L656.29,736.33 L659.66,735.71 L663.03,735.12 L666.40,734.55 L669.77,734.01 L673.14,733.49 L676.51,733.00 L679.88,732.53 L683.25,732.09 L686.62,731.66 L689.99,731.26 L693.36,730.88 L696.73,730.51 L700.10,730.15 L703.47,729.81 L706.84,729.47 L710.21,729.15 L713.59,728.83 L716.96,728.53 L720.33,728.23 L723.70,727.94 L727.07,727.65 L730.44,727.38 L733.81,727.12 L737.18,726.86 L740.55,726.61 L743.92,726.36 L747.29,726.13 L750.66,725.90 L754.03,725.67 L757.40,725.45 L760.77,725.23 L764.14,725.02 L767.51,724.81 L770.88,724.61 L774.25,724.40 L777.62,724.21 L781.00,724.01 L784.37,723.83 L787.74,723.65 L791.11,723.48 L794.48,723.31 L797.85,723.16 L801.22,723.01 L804.59,722.88 L807.96,722.75 L811.33,722.63 L814.70,722.52 L818.07,722.41 L821.44,722.31 L824.81,722.22 L828.18,722.13 L831.55,722.04 L834.92,721.96 L838.29,721.88 L841.66,721.80 L845.03,721.73 L848.40,721.66 L851.78,721.59 L855.15,721.53 L858.52,721.47 L861.89,721.41 L865.26,721.35 L868.63,721.30 L872.00,721.24 L875.37,721.19 L878.74,721.15 L882.11,721.10" stroke="#5a55ee"/>
<path d="M140.60,1181.50 L143.97,1181.50 L147.34,1181.50 L150.71,1181.50 L154.08,1181.50 L157.45,1181.49 L160.82,1181.47 L164.19,1181.44 L167.56,1181.39 L170.93,1181.32 L174.31,1181.22 L177.68,1181.08 L181.05,1180.90 L184.42,1180.66 L187.79,1180.37 L191.16,1180.00 L194.53,1179.56 L197.90,1179.04 L201.27,1178.42 L204.64,1177.71 L208.01,1176.89 L211.38,1175.96 L214.75,1174.91 L218.12,1173.74 L221.49,1172.44 L224.86,1171.02 L228.23,1169.46 L231.60,1167.76 L234.97,1165.92 L238.34,1163.95 L241.71,1161.83 L245.09,1159.58 L248.46,1157.18 L251.83,1154.63 L255.20,1151.93 L258.57,1149.09 L261.94,1146.10 L265.31,1142.96 L268.68,1139.68 L272.05,1136.26 L275.42,1132.69 L278.79,1129.00 L282.16,1125.17 L285.53,1121.22 L288.90,1117.14 L292.27,1112.95 L295.64,1108.65 L299.01,1104.24 L302.38,1099.73 L305.75,1095.12 L309.12,1090.41 L312.50,1085.62 L315.87,1080.75 L319.24,1075.79 L322.61,1070.76 L325.98,1065.65 L329.35,1060.48 L332.72,1055.25 L336.09,1049.96 L339.46,1044.62 L342.83,1039.25 L346.20,1033.83 L349.57,1028.40 L352.94,1022.96 L356.31,1017.51 L359.68,1012.07 L363.05,1006.65 L366.42,1001.25 L369.79,995.87 L373.16,990.52 L376.53,985.20 L379.91,979.92 L383.28,974.67 L386.65,969.47 L390.02,964.31 L393.39,959.19 L396.76,954.13 L400.13,949.13 L403.50,944.18 L406.87,939.29 L410.24,934.47 L413.61,929.71 L416.98,925.01 L420.35,920.37 L423.72,915.78 L427.09,911.24 L430.46,906.76 L433.83,902.31 L437.20,897.92 L440.57,893.58 L443.94,889.29 L447.32,885.06 L450.69,880.89 L454.06,876.78 L457.43,872.75 L460.80,868.77 L464.17,864.87 L467.54,861.04 L470.91,857.27 L474.28,853.58 L477.65,849.95 L481.02,846.40 L484.39,842.92 L487.76,839.50 L491.13,836.16 L494.50,832.88 L497.87,829.68 L501.24,826.54 L504.61,823.47 L507.98,820.47 L511.36,817.54 L514.73,814.67 L518.10,811.87 L521.47,809.13 L524.84,806.46 L528.21,803.86 L531.58,801.33 L534.95,798.86 L538.32,796.46 L541.69,794.13 L545.06,791.87 L548.43,789.66 L551.80,787.52 L555.17,785.43 L558.54,783.40 L561.91,781.42 L565.28,779.50 L568.65,777.62 L572.02,775.79 L575.39,774.00 L578.76,772.27 L582.14,770.58 L585.51,768.93 L588.88,767.33 L592.25,765.77 L595.62,764.25 L598.99,762.77 L602.36,761.33 L605.73,759.94 L609.10,758.58 L612.47,757.25 L615.84,755.97 L619.21,754.72 L622.58,753.51 L625.95,752.33 L629.32,751.19 L632.69,750.09 L636.06,749.02 L639.43,747.98 L642.80,746.98 L646.17,746.01 L649.55,745.07 L652.92,744.16 L656.29,743.29 L659.66,742.44 L663.03,741.62 L666.40,740.83 L669.77,740.06 L673.14,739.32 L676.51,738.60 L679.88,737.90 L683.25,737.23 L686.62,736.58 L689.99,735.95 L693.36,735.34 L696.73,734.76 L700.10,734.19 L703.47,733.64 L706.84,733.11 L710.21,732.60 L713.59,732.10 L716.96,731.63 L720.33,731.17 L723.70,730.73 L727.07,730.30 L730.44,729.89 L733.81,729.50 L737.18,729.12 L740.55,728.75 L743.92,728.40 L747.29,728.05 L750.66,727.72 L754.03,727.41 L757.40,727.10 L760.77,726.80 L764.14,726.52 L767.51,726.25 L770.88,725.98 L774.25,725.73 L777.62,725.48 L781.00,725.24 L784.37,725.02 L787.74,724.80 L791.11,724.59 L794.48,724.38 L797.85,724.19 L801.22,724.00 L804.59,723.82 L807.96,723.64 L811.33,723.47 L814.70,723.31 L818.07,723.15 L821.44,723.00 L824.81,722.86 L828.18,722.72 L831.55,722.59 L834.92,722.46 L838.29,722.33 L841.66,722.22 L845.03,722.10 L848.40,721.99 L851.78,721.89 L855.15,721.78 L858.52,721.69 L861.89,721.59 L865.26,721.50 L868.63,721.41 L872.00,721.33 L875.37,721.25 L878.74,721.17 L882.11,721.10" stroke="#4f4ae8" stroke-dasharray="6.6 3.2"/>
<path d="M140.60,1181.50 L143.97,1181.50 L147.34,1181.50 L150.71,1181.50 L154.08,1181.49 L157.45,1181.49 L160.82,1181.47 L164.19,1181.44 L167.56,1181.39 L170.93,1181.31 L174.31,1181.20 L177.68,1181.06 L181.05,1180.86 L184.42,1180.62 L187.79,1180.31 L191.16,1179.93 L194.53,1179.47 L197.90,1178.92 L201.27,1178.28 L204.64,1177.54 L208.01,1176.69 L211.38,1175.73 L214.75,1174.65 L218.12,1173.44 L221.49,1172.10 L224.86,1170.63 L228.23,1169.02 L231.60,1167.27 L234.97,1165.38 L238.34,1163.35 L241.71,1161.17 L245.09,1158.85 L248.46,1156.38 L251.83,1153.76 L255.20,1150.99 L258.57,1148.07 L261.94,1145.00 L265.31,1141.79 L268.68,1138.43 L272.05,1134.93 L275.42,1131.30 L278.79,1127.52 L282.16,1123.63 L285.53,1119.60 L288.90,1115.46 L292.27,1111.20 L295.64,1106.83 L299.01,1102.35 L302.38,1097.78 L305.75,1093.11 L309.12,1088.35 L312.50,1083.51 L315.87,1078.58 L319.24,1073.58 L322.61,1068.51 L325.98,1063.37 L329.35,1058.17 L332.72,1052.91 L336.09,1047.61 L339.46,1042.26 L342.83,1036.88 L346.20,1031.47 L349.57,1026.04 L352.94,1020.61 L356.31,1015.17 L359.68,1009.75 L363.05,1004.33 L366.42,998.93 L369.79,993.56 L373.16,988.21 L376.53,982.90 L379.91,977.61 L383.28,972.37 L386.65,967.16 L390.02,962.00 L393.39,956.88 L396.76,951.82 L400.13,946.81 L403.50,941.86 L406.87,936.97 L410.24,932.14 L413.61,927.37 L416.98,922.67 L420.35,918.04 L423.72,913.45 L427.09,908.93 L430.46,904.45 L433.83,900.03 L437.20,895.66 L440.57,891.34 L443.94,887.08 L447.32,882.88 L450.69,878.74 L454.06,874.66 L457.43,870.66 L460.80,866.71 L464.17,862.84 L467.54,859.04 L470.91,855.31 L474.28,851.64 L477.65,848.05 L481.02,844.53 L484.39,841.07 L487.76,837.69 L491.13,834.37 L494.50,831.13 L497.87,827.95 L501.24,824.84 L504.61,821.80 L507.98,818.82 L511.36,815.91 L514.73,813.06 L518.10,810.28 L521.47,807.56 L524.84,804.90 L528.21,802.31 L531.58,799.78 L534.95,797.32 L538.32,794.92 L541.69,792.59 L545.06,790.32 L548.43,788.12 L551.80,785.98 L555.17,783.90 L558.54,781.87 L561.91,779.90 L565.28,777.99 L568.65,776.12 L572.02,774.31 L575.39,772.55 L578.76,770.83 L582.14,769.16 L585.51,767.54 L588.88,765.96 L592.25,764.42 L595.62,762.93 L598.99,761.48 L602.36,760.07 L605.73,758.70 L609.10,757.37 L612.47,756.08 L615.84,754.83 L619.21,753.61 L622.58,752.43 L625.95,751.28 L629.32,750.17 L632.69,749.09 L636.06,748.05 L639.43,747.04 L642.80,746.07 L646.17,745.12 L649.55,744.21 L652.92,743.33 L656.29,742.47 L659.66,741.65 L663.03,740.85 L666.40,740.09 L669.77,739.34 L673.14,738.63 L676.51,737.94 L679.88,737.27 L683.25,736.62 L686.62,736.00 L689.99,735.40 L693.36,734.82 L696.73,734.26 L700.10,733.72 L703.47,733.20 L706.84,732.70 L710.21,732.21 L713.59,731.74 L716.96,731.29 L720.33,730.85 L723.70,730.43 L727.07,730.02 L730.44,729.62 L733.81,729.24 L737.18,728.87 L740.55,728.51 L743.92,728.17 L747.29,727.84 L750.66,727.52 L754.03,727.21 L757.40,726.91 L760.77,726.62 L764.14,726.35 L767.51,726.08 L770.88,725.82 L774.25,725.58 L777.62,725.34 L781.00,725.11 L784.37,724.89 L787.74,724.68 L791.11,724.47 L794.48,724.27 L797.85,724.08 L801.22,723.90 L804.59,723.73 L807.96,723.56 L811.33,723.39 L814.70,723.24 L818.07,723.08 L821.44,722.94 L824.81,722.80 L828.18,722.67 L831.55,722.54 L834.92,722.41 L838.29,722.29 L841.66,722.18 L845.03,722.07 L848.40,721.96 L851.78,721.86 L855.15,721.76 L858.52,721.67 L861.89,721.57 L865.26,721.49 L868.63,721.40 L872.00,721.32 L875.37,721.25 L878.74,721.17 L882.11,721.10" stroke="#5aa85a"/>
<path d="M140.60,1181.50 L143.97,1181.50 L147.34,1181.50 L150.71,1181.50 L154.08,1181.50 L157.45,1181.50 L160.82,1181.50 L164.19,1181.50 L167.56,1181.49 L170.93,1181.49 L174.31,1181.48 L177.68,1181.46 L181.05,1181.44 L184.42,1181.40 L187.79,1181.36 L191.16,1181.30 L194.53,1181.23 L197.90,1181.13 L201.27,1181.01 L204.64,1180.86 L208.01,1180.68 L211.38,1180.46 L214.75,1180.20 L218.12,1179.89 L221.49,1179.53 L224.86,1179.12 L228.23,1178.64 L231.60,1178.09 L234.97,1177.46 L238.34,1176.75 L241.71,1175.95 L245.09,1175.06 L248.46,1174.07 L251.83,1172.99 L255.20,1171.81 L258.57,1170.54 L261.94,1169.18 L265.31,1167.72 L268.68,1166.18 L272.05,1164.54 L275.42,1162.82 L278.79,1161.00 L282.16,1159.10 L285.53,1157.10 L288.90,1155.01 L292.27,1152.83 L295.64,1150.56 L299.01,1148.19 L302.38,1145.73 L305.75,1143.18 L309.12,1140.54 L312.50,1137.82 L315.87,1135.01 L319.24,1132.11 L322.61,1129.12 L325.98,1126.04 L329.35,1122.86 L332.72,1119.60 L336.09,1116.23 L339.46,1112.77 L342.83,1109.21 L346.20,1105.55 L349.57,1101.79 L352.94,1097.95 L356.31,1094.02 L359.68,1090.00 L363.05,1085.91 L366.42,1081.75 L369.79,1077.52 L373.16,1073.23 L376.53,1068.89 L379.91,1064.49 L383.28,1060.05 L386.65,1055.57 L390.02,1051.05 L393.39,1046.50 L396.76,1041.92 L400.13,1037.32 L403.50,1032.69 L406.87,1028.04 L410.24,1023.37 L413.61,1018.69 L416.98,1013.98 L420.35,1009.27 L423.72,1004.54 L427.09,999.80 L430.46,995.06 L433.83,990.32 L437.20,985.58 L440.57,980.85 L443.94,976.13 L447.32,971.42 L450.69,966.72 L454.06,962.05 L457.43,957.40 L460.80,952.79 L464.17,948.20 L467.54,943.65 L470.91,939.13 L474.28,934.66 L477.65,930.23 L481.02,925.84 L484.39,921.49 L487.76,917.19 L491.13,912.94 L494.50,908.74 L497.87,904.58 L501.24,900.47 L504.61,896.42 L507.98,892.41 L511.36,888.45 L514.73,884.55 L518.10,880.70 L521.47,876.89 L524.84,873.14 L528.21,869.43 L531.58,865.78 L534.95,862.17 L538.32,858.61 L541.69,855.10 L545.06,851.64 L548.43,848.23 L551.80,844.89 L555.17,841.60 L558.54,838.37 L561.91,835.20 L565.28,832.10 L568.65,829.06 L572.02,826.08 L575.39,823.16 L578.76,820.30 L582.14,817.50 L585.51,814.75 L588.88,812.06 L592.25,809.42 L595.62,806.84 L598.99,804.31 L602.36,801.83 L605.73,799.40 L609.10,797.03 L612.47,794.70 L615.84,792.42 L619.21,790.19 L622.58,788.02 L625.95,785.89 L629.32,783.82 L632.69,781.81 L636.06,779.85 L639.43,777.95 L642.80,776.11 L646.17,774.34 L649.55,772.63 L652.92,771.00 L656.29,769.43 L659.66,767.93 L663.03,766.51 L666.40,765.15 L669.77,763.86 L673.14,762.63 L676.51,761.45 L679.88,760.31 L683.25,759.19 L686.62,758.10 L689.99,757.02 L693.36,755.94 L696.73,754.87 L700.10,753.81 L703.47,752.75 L706.84,751.70 L710.21,750.66 L713.59,749.64 L716.96,748.62 L720.33,747.61 L723.70,746.62 L727.07,745.64 L730.44,744.67 L733.81,743.71 L737.18,742.76 L740.55,741.82 L743.92,740.89 L747.29,739.97 L750.66,739.08 L754.03,738.21 L757.40,737.38 L760.77,736.59 L764.14,735.84 L767.51,735.12 L770.88,734.45 L774.25,733.80 L777.62,733.19 L781.00,732.60 L784.37,732.03 L787.74,731.48 L791.11,730.95 L794.48,730.44 L797.85,729.94 L801.22,729.46 L804.59,728.99 L807.96,728.53 L811.33,728.09 L814.70,727.66 L818.07,727.22 L821.44,726.78 L824.81,726.36 L828.18,725.96 L831.55,725.56 L834.92,725.17 L838.29,724.80 L841.66,724.44 L845.03,724.09 L848.40,723.76 L851.78,723.43 L855.15,723.12 L858.52,722.83 L861.89,722.55 L865.26,722.28 L868.63,722.02 L872.00,721.78 L875.37,721.54 L878.74,721.32 L882.11,721.10" stroke="#4e9e4e" stroke-dasharray="6.6 3.2"/>
<path d="M140.60,1181.50 L143.97,1181.50 L147.34,1181.50 L150.71,1181.50 L154.08,1181.50 L157.45,1181.50 L160.82,1181.49 L164.19,1181.49 L167.56,1181.47 L170.93,1181.45 L174.31,1181.42 L177.68,1181.37 L181.05,1181.31 L184.42,1181.22 L187.79,1181.10 L191.16,1180.95 L194.53,1180.76 L197.90,1180.52 L201.27,1180.23 L204.64,1179.88 L208.01,1179.47 L211.38,1178.98 L214.75,1178.42 L218.12,1177.77 L221.49,1177.04 L224.86,1176.21 L228.23,1175.27 L231.60,1174.23 L234.97,1173.08 L238.34,1171.82 L241.71,1170.43 L245.09,1168.92 L248.46,1167.29 L251.83,1165.53 L255.20,1163.64 L258.57,1161.61 L261.94,1159.45 L265.31,1157.16 L268.68,1154.73 L272.05,1152.16 L275.42,1149.45 L278.79,1146.61 L282.16,1143.64 L285.53,1140.53 L288.90,1137.29 L292.27,1133.92 L295.64,1130.42 L299.01,1126.80 L302.38,1123.05 L305.75,1119.19 L309.12,1115.22 L312.50,1111.13 L315.87,1106.94 L319.24,1102.65 L322.61,1098.25 L325.98,1093.76 L329.35,1089.19 L332.72,1084.52 L336.09,1079.78 L339.46,1074.95 L342.83,1070.05 L346.20,1065.08 L349.57,1060.04 L352.94,1054.95 L356.31,1049.80 L359.68,1044.60 L363.05,1039.36 L366.42,1034.09 L369.79,1028.80 L373.16,1023.50 L376.53,1018.19 L379.91,1012.87 L383.28,1007.56 L386.65,1002.25 L390.02,996.96 L393.39,991.68 L396.76,986.41 L400.13,981.16 L403.50,975.93 L406.87,970.73 L410.24,965.55 L413.61,960.39 L416.98,955.26 L420.35,950.16 L423.72,945.08 L427.09,940.03 L430.46,935.02 L433.83,930.04 L437.20,925.10 L440.57,920.22 L443.94,915.40 L447.32,910.64 L450.69,905.96 L454.06,901.35 L457.43,896.82 L460.80,892.36 L464.17,887.97 L467.54,883.66 L470.91,879.42 L474.28,875.26 L477.65,871.17 L481.02,867.16 L484.39,863.23 L487.76,859.37 L491.13,855.58 L494.50,851.88 L497.87,848.25 L501.24,844.70 L504.61,841.23 L507.98,837.84 L511.36,834.54 L514.73,831.32 L518.10,828.18 L521.47,825.12 L524.84,822.15 L528.21,819.26 L531.58,816.45 L534.95,813.72 L538.32,811.05 L541.69,808.45 L545.06,805.91 L548.43,803.42 L551.80,800.98 L555.17,798.59 L558.54,796.25 L561.91,793.95 L565.28,791.71 L568.65,789.51 L572.02,787.37 L575.39,785.27 L578.76,783.22 L582.14,781.23 L585.51,779.28 L588.88,777.38 L592.25,775.54 L595.62,773.74 L598.99,771.99 L602.36,770.28 L605.73,768.63 L609.10,767.02 L612.47,765.46 L615.84,763.94 L619.21,762.46 L622.58,761.03 L625.95,759.64 L629.32,758.29 L632.69,756.98 L636.06,755.71 L639.43,754.48 L642.80,753.28 L646.17,752.12 L649.55,750.99 L652.92,749.90 L656.29,748.83 L659.66,747.80 L663.03,746.79 L666.40,745.81 L669.77,744.86 L673.14,743.93 L676.51,743.02 L679.88,742.13 L683.25,741.27 L686.62,740.42 L689.99,739.60 L693.36,738.80 L696.73,738.01 L700.10,737.25 L703.47,736.52 L706.84,735.82 L710.21,735.14 L713.59,734.49 L716.96,733.88 L720.33,733.29 L723.70,732.73 L727.07,732.19 L730.44,731.68 L733.81,731.19 L737.18,730.73 L740.55,730.28 L743.92,729.84 L747.29,729.43 L750.66,729.03 L754.03,728.64 L757.40,728.27 L760.77,727.92 L764.14,727.57 L767.51,727.24 L770.88,726.92 L774.25,726.62 L777.62,726.32 L781.00,726.04 L784.37,725.76 L787.74,725.50 L791.11,725.25 L794.48,725.00 L797.85,724.77 L801.22,724.54 L804.59,724.32 L807.96,724.11 L811.33,723.91 L814.70,723.72 L818.07,723.53 L821.44,723.35 L824.81,723.18 L828.18,723.02 L831.55,722.86 L834.92,722.70 L838.29,722.56 L841.66,722.42 L845.03,722.28 L848.40,722.15 L851.78,722.03 L855.15,721.90 L858.52,721.79 L861.89,721.68 L865.26,721.57 L868.63,721.47 L872.00,721.37 L875.37,721.28 L878.74,721.19 L882.11,721.10" stroke="#f2ad55"/>
<path d="M140.60,1181.50 L143.97,1181.50 L147.34,1181.50 L150.71,1181.50 L154.08,1181.50 L157.45,1181.50 L160.82,1181.50 L164.19,1181.50 L167.56,1181.50 L170.93,1181.50 L174.31,1181.50 L177.68,1181.50 L181.05,1181.50 L184.42,1181.50 L187.79,1181.49 L191.16,1181.49 L194.53,1181.48 L197.90,1181.47 L201.27,1181.46 L204.64,1181.44 L208.01,1181.42 L211.38,1181.39 L214.75,1181.36 L218.12,1181.31 L221.49,1181.25 L224.86,1181.17 L228.23,1181.07 L231.60,1180.95 L234.97,1180.80 L238.34,1180.62 L241.71,1180.41 L245.09,1180.16 L248.46,1179.87 L251.83,1179.55 L255.20,1179.18 L258.57,1178.78 L261.94,1178.35 L265.31,1177.88 L268.68,1177.39 L272.05,1176.86 L275.42,1176.30 L278.79,1175.70 L282.16,1175.07 L285.53,1174.40 L288.90,1173.68 L292.27,1172.92 L295.64,1172.11 L299.01,1171.24 L302.38,1170.32 L305.75,1169.34 L309.12,1168.30 L312.50,1167.20 L315.87,1166.04 L319.24,1164.81 L322.61,1163.52 L325.98,1162.15 L329.35,1160.72 L332.72,1159.21 L336.09,1157.63 L339.46,1155.96 L342.83,1154.22 L346.20,1152.39 L349.57,1150.47 L352.94,1148.47 L356.31,1146.38 L359.68,1144.20 L363.05,1141.94 L366.42,1139.59 L369.79,1137.15 L373.16,1134.63 L376.53,1132.03 L379.91,1129.35 L383.28,1126.59 L386.65,1123.75 L390.02,1120.83 L393.39,1117.82 L396.76,1114.75 L400.13,1111.59 L403.50,1108.36 L406.87,1105.06 L410.24,1101.69 L413.61,1098.25 L416.98,1094.74 L420.35,1091.17 L423.72,1087.53 L427.09,1083.83 L430.46,1080.08 L433.83,1076.27 L437.20,1072.40 L440.57,1068.49 L443.94,1064.52 L447.32,1060.50 L450.69,1056.43 L454.06,1052.32 L457.43,1048.16 L460.80,1043.96 L464.17,1039.73 L467.54,1035.46 L470.91,1031.16 L474.28,1026.84 L477.65,1022.50 L481.02,1018.13 L484.39,1013.76 L487.76,1009.37 L491.13,1004.97 L494.50,1000.56 L497.87,996.16 L501.24,991.75 L504.61,987.35 L507.98,982.96 L511.36,978.59 L514.73,974.22 L518.10,969.89 L521.47,965.57 L524.84,961.29 L528.21,957.03 L531.58,952.81 L534.95,948.62 L538.32,944.45 L541.69,940.30 L545.06,936.17 L548.43,932.05 L551.80,927.94 L555.17,923.85 L558.54,919.78 L561.91,915.73 L565.28,911.70 L568.65,907.69 L572.02,903.72 L575.39,899.78 L578.76,895.87 L582.14,891.99 L585.51,888.15 L588.88,884.35 L592.25,880.58 L595.62,876.86 L598.99,873.17 L602.36,869.53 L605.73,865.93 L609.10,862.37 L612.47,858.86 L615.84,855.39 L619.21,851.98 L622.58,848.61 L625.95,845.30 L629.32,842.04 L632.69,838.84 L636.06,835.70 L639.43,832.62 L642.80,829.61 L646.17,826.65 L649.55,823.76 L652.92,820.94 L656.29,818.18 L659.66,815.48 L663.03,812.85 L666.40,810.29 L669.77,807.79 L673.14,805.34 L676.51,802.95 L679.88,800.61 L683.25,798.31 L686.62,796.05 L689.99,793.83 L693.36,791.63 L696.73,789.47 L700.10,787.34 L703.47,785.25 L706.84,783.19 L710.21,781.16 L713.59,779.16 L716.96,777.20 L720.33,775.28 L723.70,773.39 L727.07,771.53 L730.44,769.70 L733.81,767.91 L737.18,766.14 L740.55,764.40 L743.92,762.68 L747.29,760.99 L750.66,759.33 L754.03,757.70 L757.40,756.10 L760.77,754.55 L764.14,753.04 L767.51,751.58 L770.88,750.16 L774.25,748.79 L777.62,747.46 L781.00,746.17 L784.37,744.92 L787.74,743.70 L791.11,742.52 L794.48,741.38 L797.85,740.26 L801.22,739.18 L804.59,738.13 L807.96,737.11 L811.33,736.12 L814.70,735.16 L818.07,734.26 L821.44,733.38 L824.81,732.53 L828.18,731.71 L831.55,730.91 L834.92,730.14 L838.29,729.38 L841.66,728.65 L845.03,727.94 L848.40,727.24 L851.78,726.57 L855.15,725.90 L858.52,725.25 L861.89,724.62 L865.26,724.00 L868.63,723.39 L872.00,722.79 L875.37,722.21 L878.74,721.65 L882.11,721.10" stroke="#f0a850" stroke-dasharray="6.6 3.2"/>
<path d="M140.60,1181.50 L143.97,1181.50 L147.34,1181.50 L150.71,1181.50 L154.08,1181.50 L157.45,1181.50 L160.82,1181.50 L164.19,1181.50 L167.56,1181.49 L170.93,1181.49 L174.31,1181.48 L177.68,1181.46 L181.05,1181.44 L184.42,1181.41 L187.79,1181.36 L191.16,1181.30 L194.53,1181.22 L197.90,1181.11 L201.27,1180.98 L204.64,1180.81 L208.01,1180.61 L211.38,1180.37 L214.75,1180.07 L218.12,1179.73 L221.49,1179.32 L224.86,1178.85 L228.23,1178.31 L231.60,1177.70 L234.97,1177.00 L238.34,1176.21 L241.71,1175.33 L245.09,1174.35 L248.46,1173.27 L251.83,1172.08 L255.20,1170.79 L258.57,1169.38 L261.94,1167.86 L265.31,1166.22 L268.68,1164.46 L272.05,1162.59 L275.42,1160.59 L278.79,1158.47 L282.16,1156.23 L285.53,1153.86 L288.90,1151.37 L292.27,1148.76 L295.64,1146.03 L299.01,1143.18 L302.38,1140.20 L305.75,1137.11 L309.12,1133.91 L312.50,1130.58 L315.87,1127.15 L319.24,1123.60 L322.61,1119.94 L325.98,1116.18 L329.35,1112.30 L332.72,1108.32 L336.09,1104.23 L339.46,1100.03 L342.83,1095.73 L346.20,1091.33 L349.57,1086.83 L352.94,1082.22 L356.31,1077.53 L359.68,1072.73 L363.05,1067.85 L366.42,1062.89 L369.79,1057.85 L373.16,1052.74 L376.53,1047.58 L379.91,1042.36 L383.28,1037.11 L386.65,1031.83 L390.02,1026.54 L393.39,1021.23 L396.76,1015.91 L400.13,1010.60 L403.50,1005.28 L406.87,999.97 L410.24,994.66 L413.61,989.34 L416.98,984.03 L420.35,978.72 L423.72,973.41 L427.09,968.09 L430.46,962.76 L433.83,957.44 L437.20,952.12 L440.57,946.81 L443.94,941.53 L447.32,936.30 L450.69,931.12 L454.06,926.01 L457.43,920.97 L460.80,916.03 L464.17,911.17 L467.54,906.40 L470.91,901.71 L474.28,897.12 L477.65,892.61 L481.02,888.18 L484.39,883.84 L487.76,879.58 L491.13,875.41 L494.50,871.32 L497.87,867.32 L501.24,863.41 L504.61,859.60 L507.98,855.87 L511.36,852.25 L514.73,848.73 L518.10,845.31 L521.47,841.99 L524.84,838.79 L528.21,835.68 L531.58,832.67 L534.95,829.75 L538.32,826.91 L541.69,824.13 L545.06,821.40 L548.43,818.71 L551.80,816.07 L555.17,813.45 L558.54,810.86 L561.91,808.31 L565.28,805.79 L568.65,803.31 L572.02,800.87 L575.39,798.47 L578.76,796.11 L582.14,793.80 L585.51,791.53 L588.88,789.30 L592.25,787.12 L595.62,784.99 L598.99,782.90 L602.36,780.85 L605.73,778.84 L609.10,776.88 L612.47,774.97 L615.84,773.09 L619.21,771.27 L622.58,769.49 L625.95,767.75 L629.32,766.07 L632.69,764.43 L636.06,762.84 L639.43,761.31 L642.80,759.82 L646.17,758.38 L649.55,756.99 L652.92,755.64 L656.29,754.33 L659.66,753.07 L663.03,751.84 L666.40,750.65 L669.77,749.50 L673.14,748.38 L676.51,747.29 L679.88,746.22 L683.25,745.19 L686.62,744.18 L689.99,743.19 L693.36,742.23 L696.73,741.30 L700.10,740.40 L703.47,739.53 L706.84,738.69 L710.21,737.89 L713.59,737.12 L716.96,736.38 L720.33,735.68 L723.70,735.01 L727.07,734.37 L730.44,733.76 L733.81,733.17 L737.18,732.61 L740.55,732.07 L743.92,731.55 L747.29,731.05 L750.66,730.58 L754.03,730.11 L757.40,729.67 L760.77,729.24 L764.14,728.83 L767.51,728.43 L770.88,728.05 L774.25,727.68 L777.62,727.33 L781.00,726.99 L784.37,726.66 L787.74,726.34 L791.11,726.04 L794.48,725.75 L797.85,725.46 L801.22,725.19 L804.59,724.93 L807.96,724.68 L811.33,724.44 L814.70,724.21 L818.07,723.99 L821.44,723.78 L824.81,723.57 L828.18,723.37 L831.55,723.18 L834.92,723.00 L838.29,722.83 L841.66,722.66 L845.03,722.50 L848.40,722.34 L851.78,722.19 L855.15,722.05 L858.52,721.92 L861.89,721.78 L865.26,721.66 L868.63,721.54 L872.00,721.42 L875.37,721.31 L878.74,721.20 L882.11,721.10" stroke="#e2535e"/>
<path d="M140.60,1181.50 L143.97,1181.50 L147.34,1181.50 L150.71,1181.50 L154.08,1181.50 L157.45,1181.50 L160.82,1181.50 L164.19,1181.50 L167.56,1181.50 L170.93,1181.50 L174.31,1181.50 L177.68,1181.50 L181.05,1181.50 L184.42,1181.50 L187.79,1181.50 L191.16,1181.50 L194.53,1181.49 L197.90,1181.49 L201.27,1181.49 L204.64,1181.48 L208.01,1181.47 L211.38,1181.46 L214.75,1181.45 L218.12,1181.43 L221.49,1181.41 L224.86,1181.38 L228.23,1181.34 L231.60,1181.28 L234.97,1181.22 L238.34,1181.14 L241.71,1181.05 L245.09,1180.94 L248.46,1180.81 L251.83,1180.66 L255.20,1180.49 L258.57,1180.31 L261.94,1180.10 L265.31,1179.88 L268.68,1179.64 L272.05,1179.39 L275.42,1179.11 L278.79,1178.81 L282.16,1178.49 L285.53,1178.14 L288.90,1177.76 L292.27,1177.35 L295.64,1176.91 L299.01,1176.42 L302.38,1175.90 L305.75,1175.33 L309.12,1174.71 L312.50,1174.04 L315.87,1173.31 L319.24,1172.53 L322.61,1171.68 L325.98,1170.76 L329.35,1169.78 L332.72,1168.74 L336.09,1167.62 L339.46,1166.43 L342.83,1165.18 L346.20,1163.85 L349.57,1162.47 L352.94,1161.02 L356.31,1159.50 L359.68,1157.93 L363.05,1156.29 L366.42,1154.59 L369.79,1152.83 L373.16,1151.01 L376.53,1149.14 L379.91,1147.21 L383.28,1145.23 L386.65,1143.20 L390.02,1141.12 L393.39,1138.99 L396.76,1136.82 L400.13,1134.60 L403.50,1132.33 L406.87,1130.02 L410.24,1127.66 L413.61,1125.24 L416.98,1122.77 L420.35,1120.23 L423.72,1117.63 L427.09,1114.97 L430.46,1112.24 L433.83,1109.44 L437.20,1106.56 L440.57,1103.62 L443.94,1100.60 L447.32,1097.52 L450.69,1094.37 L454.06,1091.15 L457.43,1087.87 L460.80,1084.53 L464.17,1081.13 L467.54,1077.68 L470.91,1074.17 L474.28,1070.61 L477.65,1067.00 L481.02,1063.34 L484.39,1059.64 L487.76,1055.88 L491.13,1052.08 L494.50,1048.23 L497.87,1044.33 L501.24,1040.39 L504.61,1036.41 L507.98,1032.39 L511.36,1028.32 L514.73,1024.23 L518.10,1020.11 L521.47,1015.96 L524.84,1011.79 L528.21,1007.60 L531.58,1003.39 L534.95,999.16 L538.32,994.92 L541.69,990.65 L545.06,986.36 L548.43,982.05 L551.80,977.71 L555.17,973.36 L558.54,969.00 L561.91,964.64 L565.28,960.29 L568.65,955.95 L572.02,951.65 L575.39,947.40 L578.76,943.19 L582.14,939.02 L585.51,934.91 L588.88,930.84 L592.25,926.81 L595.62,922.81 L598.99,918.85 L602.36,914.92 L605.73,911.02 L609.10,907.14 L612.47,903.29 L615.84,899.47 L619.21,895.66 L622.58,891.88 L625.95,888.12 L629.32,884.39 L632.69,880.69 L636.06,877.01 L639.43,873.37 L642.80,869.77 L646.17,866.21 L649.55,862.69 L652.92,859.23 L656.29,855.82 L659.66,852.47 L663.03,849.18 L666.40,845.95 L669.77,842.78 L673.14,839.68 L676.51,836.63 L679.88,833.63 L683.25,830.68 L686.62,827.77 L689.99,824.90 L693.36,822.06 L696.73,819.25 L700.10,816.47 L703.47,813.73 L706.84,811.02 L710.21,808.34 L713.59,805.70 L716.96,803.09 L720.33,800.52 L723.70,797.98 L727.07,795.48 L730.44,793.01 L733.81,790.56 L737.18,788.14 L740.55,785.74 L743.92,783.36 L747.29,780.99 L750.66,778.65 L754.03,776.33 L757.40,774.03 L760.77,771.79 L764.14,769.59 L767.51,767.45 L770.88,765.36 L774.25,763.33 L777.62,761.37 L781.00,759.45 L784.37,757.59 L787.74,755.77 L791.11,754.01 L794.48,752.29 L797.85,750.61 L801.22,748.98 L804.59,747.39 L807.96,745.84 L811.33,744.33 L814.70,742.87 L818.07,741.54 L821.44,740.25 L824.81,738.99 L828.18,737.77 L831.55,736.58 L834.92,735.42 L838.29,734.29 L841.66,733.19 L845.03,732.11 L848.40,731.05 L851.78,730.00 L855.15,728.96 L858.52,727.94 L861.89,726.92 L865.26,725.91 L868.63,724.92 L872.00,723.94 L875.37,722.98 L878.74,722.03 L882.11,721.10" stroke="#dd4a56" stroke-dasharray="6.6 3.2"/>
</g>
<line x1="309.12" y1="905.26" x2="309.12" y2="1203.8" stroke="#000" stroke-width="3.2" stroke-dasharray="4 3.5"/>
<line x1="106.89" y1="1203.8" x2="106.89" y2="1199.6" stroke="#777" stroke-width="1.3"/>
<line x1="140.60" y1="1203.8" x2="140.60" y2="1196.8" stroke="#777" stroke-width="1.3"/>
<line x1="174.31" y1="1203.8" x2="174.31" y2="1199.6" stroke="#777" stroke-width="1.3"/>
<line x1="208.01" y1="1203.8" x2="208.01" y2="1199.6" stroke="#777" stroke-width="1.3"/>
<line x1="241.71" y1="1203.8" x2="241.71" y2="1199.6" stroke="#777" stroke-width="1.3"/>
<line x1="275.42" y1="1203.8" x2="275.42" y2="1199.6" stroke="#777" stroke-width="1.3"/>
<line x1="309.12" y1="1203.8" x2="309.12" y2="1196.8" stroke="#777" stroke-width="1.3"/>
<line x1="342.83" y1="1203.8" x2="342.83" y2="1199.6" stroke="#777" stroke-width="1.3"/>
<line x1="376.53" y1="1203.8" x2="376.53" y2="1199.6" stroke="#777" stroke-width="1.3"/>
<line x1="410.24" y1="1203.8" x2="410.24" y2="1199.6" stroke="#777" stroke-width="1.3"/>
<line x1="443.94" y1="1203.8" x2="443.94" y2="1199.6" stroke="#777" stroke-width="1.3"/>
<line x1="477.65" y1="1203.8" x2="477.65" y2="1196.8" stroke="#777" stroke-width="1.3"/>
<line x1="511.36" y1="1203.8" x2="511.36" y2="1199.6" stroke="#777" stroke-width="1.3"/>
<line x1="545.06" y1="1203.8" x2="545.06" y2="1199.6" stroke="#777" stroke-width="1.3"/>
<line x1="578.76" y1="1203.8" x2="578.76" y2="1199.6" stroke="#777" stroke-width="1.3"/>
<line x1="612.47" y1="1203.8" x2="612.47" y2="1199.6" stroke="#777" stroke-width="1.3"/>
<line x1="646.17" y1="1203.8" x2="646.17" y2="1196.8" stroke="#777" stroke-width="1.3"/>
<line x1="679.88" y1="1203.8" x2="679.88" y2="1199.6" stroke="#777" stroke-width="1.3"/>
<line x1="713.59" y1="1203.8" x2="713.59" y2="1199.6" stroke="#777" stroke-width="1.3"/>
<line x1="747.29" y1="1203.8" x2="747.29" y2="1199.6" stroke="#777" stroke-width="1.3"/>
<line x1="781.00" y1="1203.8" x2="781.00" y2="1199.6" stroke="#777" stroke-width="1.3"/>
<line x1="814.70" y1="1203.8" x2="814.70" y2="1196.8" stroke="#777" stroke-width="1.3"/>
<line x1="848.40" y1="1203.8" x2="848.40" y2="1199.6" stroke="#777" stroke-width="1.3"/>
<line x1="882.11" y1="1203.8" x2="882.11" y2="1199.6" stroke="#777" stroke-width="1.3"/>
<line x1="915.81" y1="1203.8" x2="915.81" y2="1199.6" stroke="#777" stroke-width="1.3"/>
<line x1="104.0" y1="1199.92" x2="107.8" y2="1199.92" stroke="#777" stroke-width="1.3"/>
<line x1="104.0" y1="1181.50" x2="111.0" y2="1181.50" stroke="#777" stroke-width="1.3"/>
<line x1="104.0" y1="1163.08" x2="107.8" y2="1163.08" stroke="#777" stroke-width="1.3"/>
<line x1="104.0" y1="1144.67" x2="107.8" y2="1144.67" stroke="#777" stroke-width="1.3"/>
<line x1="104.0" y1="1126.25" x2="107.8" y2="1126.25" stroke="#777" stroke-width="1.3"/>
<line x1="104.0" y1="1107.84" x2="107.8" y2="1107.84" stroke="#777" stroke-width="1.3"/>
<line x1="104.0" y1="1089.42" x2="111.0" y2="1089.42" stroke="#777" stroke-width="1.3"/>
<line x1="104.0" y1="1071.00" x2="107.8" y2="1071.00" stroke="#777" stroke-width="1.3"/>
<line x1="104.0" y1="1052.59" x2="107.8" y2="1052.59" stroke="#777" stroke-width="1.3"/>
<line x1="104.0" y1="1034.17" x2="107.8" y2="1034.17" stroke="#777" stroke-width="1.3"/>
<line x1="104.0" y1="1015.76" x2="107.8" y2="1015.76" stroke="#777" stroke-width="1.3"/>
<line x1="104.0" y1="997.34" x2="111.0" y2="997.34" stroke="#777" stroke-width="1.3"/>
<line x1="104.0" y1="978.92" x2="107.8" y2="978.92" stroke="#777" stroke-width="1.3"/>
<line x1="104.0" y1="960.51" x2="107.8" y2="960.51" stroke="#777" stroke-width="1.3"/>
<line x1="104.0" y1="942.09" x2="107.8" y2="942.09" stroke="#777" stroke-width="1.3"/>
<line x1="104.0" y1="923.68" x2="107.8" y2="923.68" stroke="#777" stroke-width="1.3"/>
<line x1="104.0" y1="905.26" x2="111.0" y2="905.26" stroke="#777" stroke-width="1.3"/>
<line x1="104.0" y1="886.84" x2="107.8" y2="886.84" stroke="#777" stroke-width="1.3"/>
<line x1="104.0" y1="868.43" x2="107.8" y2="868.43" stroke="#777" stroke-width="1.3"/>
<line x1="104.0" y1="850.01" x2="107.8" y2="850.01" stroke="#777" stroke-width="1.3"/>
<line x1="104.0" y1="831.60" x2="107.8" y2="831.60" stroke="#777" stroke-width="1.3"/>
<line x1="104.0" y1="813.18" x2="111.0" y2="813.18" stroke="#777" stroke-width="1.3"/>
<line x1="104.0" y1="794.76" x2="107.8" y2="794.76" stroke="#777" stroke-width="1.3"/>
<line x1="104.0" y1="776.35" x2="107.8" y2="776.35" stroke="#777" stroke-width="1.3"/>
<line x1="104.0" y1="757.93" x2="107.8" y2="757.93" stroke="#777" stroke-width="1.3"/>
<line x1="104.0" y1="739.52" x2="107.8" y2="739.52" stroke="#777" stroke-width="1.3"/>
<line x1="104.0" y1="721.10" x2="111.0" y2="721.10" stroke="#777" stroke-width="1.3"/>
<line x1="104.0" y1="702.68" x2="107.8" y2="702.68" stroke="#777" stroke-width="1.3"/>
<rect x="104.0" y="698.0" width="815.50" height="505.80" fill="none" stroke="#8a8a8a" stroke-width="1.6"/>
<rect x="112.9" y="707.7" width="217.6" height="195.7" rx="3.5" fill="rgba(255,255,255,0.8)" stroke="#d9d9d9" stroke-width="1.2"/>
<line x1="118.5" y1="719.80" x2="152.8" y2="719.80" stroke="#5a55ee" stroke-width="2.3"/>
<text x="163.9" y="724.70" class="lg">Axial, 20 GeV</text>
<line x1="119.5" y1="743.76" x2="152.8" y2="743.76" stroke="#4f4ae8" stroke-width="2.3" stroke-dasharray="6.6 3.2"/>
<text x="163.9" y="748.66" class="lg">Random, 20 GeV</text>
<line x1="118.5" y1="767.72" x2="152.8" y2="767.72" stroke="#5aa85a" stroke-width="2.3"/>
<text x="163.9" y="772.62" class="lg">Axial, 120 GeV</text>
<line x1="119.5" y1="791.68" x2="152.8" y2="791.68" stroke="#4e9e4e" stroke-width="2.3" stroke-dasharray="6.6 3.2"/>
<text x="163.9" y="796.58" class="lg">Random, 120 GeV</text>
<line x1="118.5" y1="815.64" x2="152.8" y2="815.64" stroke="#f2ad55" stroke-width="2.3"/>
<text x="163.9" y="820.54" class="lg">Axial, 1000 GeV</text>
<line x1="119.5" y1="839.60" x2="152.8" y2="839.60" stroke="#f0a850" stroke-width="2.3" stroke-dasharray="6.6 3.2"/>
<text x="163.9" y="844.50" class="lg">Random, 1000 GeV</text>
<line x1="118.5" y1="863.56" x2="152.8" y2="863.56" stroke="#e2535e" stroke-width="2.3"/>
<text x="163.9" y="868.46" class="lg">Axial, 3000 GeV</text>
<line x1="119.5" y1="887.52" x2="152.8" y2="887.52" stroke="#dd4a56" stroke-width="2.3" stroke-dasharray="6.6 3.2"/>
<text x="163.9" y="892.42" class="lg">Random, 3000 GeV</text>
<text x="140.60" y="1224.5" class="tk" text-anchor="middle">0</text>
<text x="309.12" y="1224.5" class="tk" text-anchor="middle">5</text>
<text x="477.65" y="1224.5" class="tk" text-anchor="middle">10</text>
<text x="646.17" y="1224.5" class="tk" text-anchor="middle">15</text>
<text x="814.70" y="1224.5" class="tk" text-anchor="middle">20</text>
<text x="102.1" y="1190.10" class="tk" text-anchor="end">0</text>
<text x="102.1" y="1098.02" class="tk" text-anchor="end">20</text>
<text x="102.1" y="1005.94" class="tk" text-anchor="end">40</text>
<text x="102.1" y="913.86" class="tk" text-anchor="end">60</text>
<text x="102.1" y="821.78" class="tk" text-anchor="end">80</text>
<text x="102.1" y="729.70" class="tk" text-anchor="end">100</text>
<text x="512.7" y="1250.2" class="tk yl" text-anchor="middle">Depth (units of <tspan font-style="italic">X</tspan><tspan font-size="15.5" dy="3.5">0</tspan><tspan dy="-3.5">)</tspan></text>
<text x="460.6" y="691.6" class="tk" font-style="italic">e</text><rect x="479.9" y="676.4" width="8.8" height="1.6" fill="#111"/><text x="501.6" y="691.6" class="tk">beam</text>
<text transform="translate(24.8,951.7) rotate(-90)" class="tk yl" text-anchor="middle">Fraction of initial particle energy deposited (%)</text>
<defs><clipPath id="cp"><rect x="3" y="1277" width="926" height="751"/></clipPath><filter id="b2" x="-20%" y="-20%" width="140%" height="140%"><feGaussianBlur stdDeviation="2"/></filter><filter id="b6" x="-30%" y="-30%" width="160%" height="160%"><feGaussianBlur stdDeviation="6"/></filter><filter id="b12" x="-50%" y="-50%" width="200%" height="200%"><feGaussianBlur stdDeviation="12"/></filter><linearGradient id="gcloth" x1="0" y1="0" x2="1" y2="1"><stop offset="0" stop-color="#d9d9d7"/><stop offset="1" stop-color="#cfcfcc"/></linearGradient><linearGradient id="gtop" x1="0" y1="0" x2="1" y2="0.3"><stop offset="0" stop-color="#eeede8"/><stop offset="1" stop-color="#e6e5df"/></linearGradient><linearGradient id="grod" x1="0" y1="0" x2="1" y2="0"><stop offset="0" stop-color="#2a2a2a"/><stop offset="0.45" stop-color="#3b3b3b"/><stop offset="1" stop-color="#252525"/></linearGradient><linearGradient id="gsil" x1="0" y1="0" x2="0" y2="1"><stop offset="0" stop-color="#e8e8e8"/><stop offset="0.3" stop-color="#c9c9c9"/><stop offset="0.7" stop-color="#a8a8a8"/><stop offset="1" stop-color="#8a8a8a"/></linearGradient><linearGradient id="gface" x1="0" y1="0" x2="1" y2="1"><stop offset="0" stop-color="#d3cfc0"/><stop offset="1" stop-color="#c6c1ae"/></linearGradient><linearGradient id="gface2" x1="0" y1="0" x2="1" y2="1"><stop offset="0" stop-color="#cfcab8"/><stop offset="1" stop-color="#bdb7a1"/></linearGradient><linearGradient id="gxtal" x1="0" y1="0" x2="1" y2="0"><stop offset="0" stop-color="#3c3f48"/><stop offset="0.4" stop-color="#1d1e25"/><stop offset="1" stop-color="#18191d"/></linearGradient></defs>
<g clip-path="url(#cp)">
<rect x="3" y="1277" width="926" height="751" fill="#d6d6d3"/>
<polygon points="3.0,1277.0 300.0,1277.0 300.0,1700.0 3.0,1700.0" fill="#dfdfdd" />
<polygon points="3.0,1277.0 280.0,1277.0 280.0,1293.0 3.0,1293.0" fill="#d2d2cf" filter="url(#b2)"/>
<g filter="url(#b6)"><polygon points="3,1300 120,1296 270,1318 270,1345 150,1335 3,1340" fill="#e9e9e7"/><polygon points="3,1345 140,1340 280,1352 280,1372 150,1366 3,1372" fill="#cfcfcc"/><polygon points="30,1372 100,1368 175,1380 150,1410 95,1422 45,1418" fill="#c2c2bf"/><polygon points="3,1380 30,1380 40,1600 3,1640" fill="#efefed"/><polygon points="40,1425 160,1410 165,1575 60,1630" fill="#eaeae8"/></g>
<polygon points="275.0,1277.0 334.0,1277.0 334.0,1320.0 278.0,1320.0" fill="#3a3a3a" />
<polygon points="330.0,1277.0 634.0,1277.0 560.0,1377.0 520.0,1372.0 430.0,1335.0 360.0,1310.0 330.0,1305.0" fill="#4b4b4b" />
<polygon points="620.0,1277.0 700.0,1277.0 700.0,1322.0 620.0,1322.0" fill="#cfcbc2" />
<polygon points="750.0,1277.0 929.0,1277.0 929.0,1323.0 750.0,1310.0" fill="#cdc9bf" />
<polygon points="560.0,1320.0 700.0,1300.0 760.0,1330.0 929.0,1360.0 929.0,1480.0 760.0,1480.0 560.0,1400.0" fill="#cfcfcb" />
<polygon points="600.0,1305.0 676.0,1300.0 676.0,1340.0 600.0,1340.0" fill="#3a3a3a" />
<polygon points="676.0,1290.0 704.0,1281.0 929.0,1325.0 929.0,1418.0 676.0,1372.0" fill="#3f3f3f" />
<polygon points="700.0,1300.0 929.0,1345.0 929.0,1395.0 700.0,1350.0" fill="#4a4a4a" />
<polygon points="677.0,1386.0 700.0,1381.0 836.0,1428.0 929.0,1450.0 929.0,1490.0 836.0,1463.0 676.0,1416.0" fill="url(#gsil)" />
<polygon points="700.0,1460.0 929.0,1480.0 929.0,1700.0 838.0,1697.0 819.0,1688.0 760.0,1660.0 700.0,1625.0" fill="#dededb" />
<polygon points="838.0,1696.0 929.0,1700.0 929.0,2028.0 800.0,2028.0" fill="#d3d3cf" />
<polygon points="683.0,1622.0 735.0,1638.0 780.0,1660.0 819.0,1688.0 838.0,1697.0 801.0,2028.0 570.0,2028.0 526.0,1992.0 574.0,1874.0 634.0,1731.0" fill="#242424" />
<polygon points="690.0,1650.0 740.0,1650.0 760.0,1850.0 745.0,1900.0 690.0,1930.0 600.0,1990.0 575.0,1900.0 634.0,1745.0" fill="#2f2f2f" />
<polygon points="600.0,1990.0 690.0,1930.0 745.0,1900.0 760.0,2028.0 620.0,2028.0" fill="#2a2a2a" />
<polygon points="3.0,1650.0 22.0,1665.0 130.0,1743.0 175.0,1775.0 249.0,1822.0 381.0,1909.0 470.0,1965.0 526.0,2000.0 565.0,2027.0 570.0,2028.0 3.0,2028.0" fill="#e1e1df" />
<g filter="url(#b12)"><ellipse cx="60" cy="1760" rx="60" ry="90" fill="#e8e8e6"/><ellipse cx="200" cy="1980" rx="150" ry="40" fill="#dededc"/></g>
<polygon points="22.0,1638.0 151.0,1577.0 138.0,1737.0 130.0,1743.0 22.0,1665.0" fill="#252525" />
<polyline points="22,1652 90,1693" fill="none" stroke="#3a3a3a" stroke-width="2"/>
<polygon points="137.0,1737.0 249.0,1813.0 381.0,1900.0 526.0,1992.0 570.0,2028.0 565.0,2027.0 526.0,2000.0 470.0,1965.0 381.0,1909.0 249.0,1822.0 175.0,1775.0 130.0,1743.0" fill="#4d4b47" />
<polygon points="184.0,1346.0 346.0,1306.0 420.0,1325.0 560.0,1372.0 640.0,1410.0 759.0,1453.0 712.0,1552.0 504.5,1471.0 330.5,1399.5 184.0,1350.0" fill="url(#gtop)" />
<polygon points="176.0,1349.0 184.0,1346.0 184.0,1350.0 167.0,1495.0 162.0,1495.0" fill="#e6e4dc" />
<polygon points="712.0,1552.0 759.0,1453.0 768.0,1462.0 724.0,1562.0 650.0,1722.0 634.0,1731.0" fill="#dcdad2" />
<polygon points="184.0,1350.0 330.5,1399.5 303.0,1560.0 167.0,1495.0" fill="#cbc7b8" />
<polygon points="330.5,1399.5 504.5,1471.0 456.0,1636.0 303.0,1560.0" fill="#cdc9bb" />
<polygon points="504.5,1471.0 712.0,1552.0 634.0,1731.0 456.0,1636.0" fill="#d4d1c4" />
<polygon points="167.0,1495.0 303.0,1560.0 274.0,1699.0 151.0,1640.0" fill="#cecbbe" />
<polygon points="303.0,1560.0 456.0,1636.0 415.0,1784.0 274.0,1699.0" fill="#cac6b7" />
<polygon points="456.0,1636.0 634.0,1731.0 574.0,1874.0 415.0,1784.0" fill="#cbc7b9" />
<polygon points="151.0,1640.0 274.0,1699.0 249.0,1813.0 138.0,1737.0" fill="#d2cfc3" />
<polygon points="274.0,1699.0 415.0,1784.0 381.0,1900.0 249.0,1813.0" fill="#d0cdc0" />
<polygon points="415.0,1784.0 574.0,1874.0 526.0,1992.0 381.0,1900.0" fill="#cdcabd" />
<clipPath id="cf"><polygon points="184.0,1350.0 712.0,1552.0 634.0,1731.0 574.0,1874.0 526.0,1992.0 138.0,1737.0"/></clipPath>
<g clip-path="url(#cf)"><g filter="url(#b12)" opacity="0.9"><ellipse cx="290" cy="1475" rx="25" ry="30" fill="#ecebe6"/><ellipse cx="428" cy="1560" rx="38" ry="48" fill="#e9e8e2" transform="rotate(-20 428 1560)"/><ellipse cx="230" cy="1760" rx="30" ry="22" fill="#e2e0d6"/><ellipse cx="330" cy="1830" rx="35" ry="25" fill="#dedcd2"/><ellipse cx="200" cy="1420" rx="20" ry="40" fill="#bdb8a5"/><ellipse cx="560" cy="1560" rx="50" ry="25" fill="#e0ddd0"/><ellipse cx="200" cy="1755" rx="25" ry="14" fill="#e6e4da"/><ellipse cx="345" cy="1810" rx="25" ry="18" fill="#e3e1d7"/><ellipse cx="390" cy="1690" rx="22" ry="30" fill="#dcdad0"/></g><g filter="url(#b2)" fill="none" stroke-linecap="round"><path d="M512,1592 L600,1630 L655,1658" stroke="#a9a48f" stroke-width="4" opacity="0.7"/><path d="M470,1760 L560,1800 L610,1822" stroke="#aca792" stroke-width="3" opacity="0.6"/><path d="M160,1560 L230,1590 L290,1612" stroke="#b3ae9a" stroke-width="2" opacity="0.6"/><path d="M330,1420 L335,1500" stroke="#b8b3a0" stroke-width="3" opacity="0.5"/><path d="M215,1380 L205,1480" stroke="#b8b3a0" stroke-width="2" opacity="0.5"/></g></g>
<line x1="167" y1="1495" x2="303" y2="1560" stroke="#ebe9e0" stroke-width="5" stroke-linecap="round"/>
<line x1="303" y1="1560" x2="456" y2="1636" stroke="#ebe9e0" stroke-width="5" stroke-linecap="round"/>
<line x1="456" y1="1636" x2="634" y2="1731" stroke="#ebe9e0" stroke-width="5" stroke-linecap="round"/>
<line x1="151" y1="1640" x2="274" y2="1699" stroke="#ebe9e0" stroke-width="5" stroke-linecap="round"/>
<line x1="274" y1="1699" x2="415" y2="1784" stroke="#ebe9e0" stroke-width="5" stroke-linecap="round"/>
<line x1="415" y1="1784" x2="574" y2="1874" stroke="#ebe9e0" stroke-width="5" stroke-linecap="round"/>
<line x1="330.5" y1="1399.5" x2="303" y2="1560" stroke="#ebe9e0" stroke-width="5" stroke-linecap="round"/>
<line x1="303" y1="1560" x2="274" y2="1699" stroke="#ebe9e0" stroke-width="5" stroke-linecap="round"/>
<line x1="274" y1="1699" x2="249" y2="1813" stroke="#ebe9e0" stroke-width="5" stroke-linecap="round"/>
<line x1="504.5" y1="1471" x2="456" y2="1636" stroke="#ebe9e0" stroke-width="5" stroke-linecap="round"/>
<line x1="456" y1="1636" x2="415" y2="1784" stroke="#ebe9e0" stroke-width="5" stroke-linecap="round"/>
<line x1="415" y1="1784" x2="381" y2="1900" stroke="#ebe9e0" stroke-width="5" stroke-linecap="round"/>
<line x1="167" y1="1498.5" x2="303" y2="1563.5" stroke="#a8a38e" stroke-width="1.4" stroke-linecap="round"/>
<line x1="303" y1="1563.5" x2="456" y2="1639.5" stroke="#a8a38e" stroke-width="1.4" stroke-linecap="round"/>
<line x1="456" y1="1639.5" x2="634" y2="1734.5" stroke="#a8a38e" stroke-width="1.4" stroke-linecap="round"/>
<line x1="151" y1="1643.5" x2="274" y2="1702.5" stroke="#a8a38e" stroke-width="1.4" stroke-linecap="round"/>
<line x1="274" y1="1702.5" x2="415" y2="1787.5" stroke="#a8a38e" stroke-width="1.4" stroke-linecap="round"/>
<line x1="415" y1="1787.5" x2="574" y2="1877.5" stroke="#a8a38e" stroke-width="1.4" stroke-linecap="round"/>
<line x1="334.0" y1="1399.5" x2="306.5" y2="1560" stroke="#a8a38e" stroke-width="1.4" stroke-linecap="round"/>
<line x1="306.5" y1="1560" x2="277.5" y2="1699" stroke="#a8a38e" stroke-width="1.4" stroke-linecap="round"/>
<line x1="277.5" y1="1699" x2="252.5" y2="1813" stroke="#a8a38e" stroke-width="1.4" stroke-linecap="round"/>
<line x1="508.0" y1="1471" x2="459.5" y2="1636" stroke="#a8a38e" stroke-width="1.4" stroke-linecap="round"/>
<line x1="459.5" y1="1636" x2="418.5" y2="1784" stroke="#a8a38e" stroke-width="1.4" stroke-linecap="round"/>
<line x1="418.5" y1="1784" x2="384.5" y2="1900" stroke="#a8a38e" stroke-width="1.4" stroke-linecap="round"/>
<line x1="184" y1="1350" x2="330.5" y2="1399.5" stroke="#ebeae3" stroke-width="3" stroke-linecap="round"/>
<line x1="330.5" y1="1399.5" x2="504.5" y2="1471" stroke="#ebeae3" stroke-width="3" stroke-linecap="round"/>
<line x1="504.5" y1="1471" x2="712" y2="1552" stroke="#ebeae3" stroke-width="3" stroke-linecap="round"/>
<line x1="184" y1="1350" x2="167" y2="1495" stroke="#e2e0d6" stroke-width="3" stroke-linecap="round"/>
<line x1="712" y1="1552" x2="634" y2="1731" stroke="#e2e0d6" stroke-width="4" stroke-linecap="round"/>
<line x1="167" y1="1495" x2="151" y2="1640" stroke="#e2e0d6" stroke-width="3" stroke-linecap="round"/>
<line x1="634" y1="1731" x2="574" y2="1874" stroke="#e2e0d6" stroke-width="4" stroke-linecap="round"/>
<line x1="151" y1="1640" x2="138" y2="1737" stroke="#e2e0d6" stroke-width="3" stroke-linecap="round"/>
<line x1="574" y1="1874" x2="526" y2="1992" stroke="#e2e0d6" stroke-width="4" stroke-linecap="round"/>
<polygon points="427.0,1309.0 535.0,1343.0 507.0,1432.0 373.0,1381.0" fill="#6f7277" />
<polygon points="428.0,1315.0 528.0,1346.0 505.0,1411.0 379.0,1378.0" fill="url(#gxtal)" />
<polygon points="373.0,1381.0 379.0,1378.0 505.0,1411.0 507.0,1432.0" fill="#5d6066" />
<polygon points="455.0,1330.0 520.0,1345.0 510.0,1390.0 470.0,1375.0" fill="#3a3131" filter="url(#b2)"/>
<polygon points="432.0,1350.0 478.0,1356.0 476.0,1378.0 430.0,1372.0" fill="#a9b3ba" filter="url(#b2)"/>
<polygon points="425.0,1368.0 500.0,1380.0 497.0,1405.0 422.0,1392.0" fill="#101116" filter="url(#b2)"/>
<polygon points="499.0,1338.0 530.0,1345.0 525.0,1362.0" fill="#c9cacb" />
<polygon points="872.0,1377.0 924.0,1394.0 835.0,1560.0 800.0,1641.0 770.0,1720.0 740.0,1840.0 670.0,1840.0 678.0,1835.0 690.0,1790.0 715.0,1710.0 742.0,1641.0 781.0,1560.0" fill="#2c2c2c" />
<polygon points="859.0,1447.0 862.0,1443.0 929.0,1462.0 929.0,1478.0 880.0,1573.0 849.0,1620.0 818.0,1680.0 753.0,1804.0 745.0,1852.0 700.0,1852.0 703.0,1848.0 715.0,1770.0 738.0,1700.0 766.0,1641.0 802.0,1560.0" fill="url(#grod)" />
<ellipse cx="897" cy="1386" rx="27" ry="9" fill="#333" transform="rotate(18 897 1386)"/>
<ellipse cx="895" cy="1454" rx="34" ry="11" fill="#353535" transform="rotate(18 895 1454)"/>
<ellipse cx="905" cy="1457" rx="16" ry="6" fill="#b59f6a" transform="rotate(18 905 1457)"/>
<ellipse cx="900" cy="1387" rx="13" ry="5" fill="#a8956a" transform="rotate(18 900 1387)"/>
<text x="0" y="0" dy="20" font-family="DejaVu Sans, sans-serif" fill="#000" font-size="55" text-anchor="middle" transform="translate(282,1520.7) rotate(18) scale(1.13,1.03)">9</text>
<text x="0" y="0" dy="20" font-family="DejaVu Sans, sans-serif" fill="#000" font-size="55" text-anchor="middle" transform="translate(440.6,1594.6) rotate(24) scale(1.13,1.03)">8</text>
<text x="0" y="0" dy="20" font-family="DejaVu Sans, sans-serif" fill="#000" font-size="55" text-anchor="middle" transform="translate(625.1,1684.1) rotate(27) scale(1.13,1.03)">7</text>
<text x="0" y="0" dy="20" font-family="DejaVu Sans, sans-serif" fill="#000" font-size="55" text-anchor="middle" transform="translate(252.4,1657.6) rotate(20) scale(1.13,1.03)">6</text>
<text x="0" y="0" dy="20" font-family="DejaVu Sans, sans-serif" fill="#000" font-size="55" text-anchor="middle" transform="translate(401,1737.5) rotate(27) scale(1.13,1.03)">5</text>
<text x="0" y="0" dy="20" font-family="DejaVu Sans, sans-serif" fill="#000" font-size="55" text-anchor="middle" transform="translate(565.8,1831.6) rotate(26) scale(1.13,1.03)">4</text>
<text x="0" y="0" dy="20" font-family="DejaVu Sans, sans-serif" fill="#000" font-size="55" text-anchor="middle" transform="translate(235.5,1775) rotate(22) scale(1.13,1.03)">3</text>
<text x="0" y="0" dy="20" font-family="DejaVu Sans, sans-serif" fill="#000" font-size="55" text-anchor="middle" transform="translate(373.7,1862) rotate(28) scale(1.13,1.03)">2</text>
<text x="0" y="0" dy="20" font-family="DejaVu Sans, sans-serif" fill="#000" font-size="55" text-anchor="middle" transform="translate(524.9,1958.6) rotate(28) scale(1.13,1.03)">1</text>
<text x="16.3" y="1337.2" font-family="Liberation Sans, Arial, sans-serif" fill="#000" font-size="53">(</text><text x="32.3" y="1340.1" font-family="Liberation Sans, Arial, sans-serif" fill="#000" font-size="61">c</text><text x="61.9" y="1337.2" font-family="Liberation Sans, Arial, sans-serif" fill="#000" font-size="53">)</text>
<line x1="186" y1="1344" x2="345" y2="1305" stroke="#000" stroke-width="2.4"/>
<polyline points="198.4,1348.2 186,1344 195.0,1334.6" fill="none" stroke="#000" stroke-width="2.4"/>
<polyline points="332.6,1300.8 345,1305 336.0,1314.4" fill="none" stroke="#000" stroke-width="2.4"/>
<line x1="188" y1="1353" x2="328" y2="1401" stroke="#000" stroke-width="2.4"/>
<polyline points="196.1,1363.2 188,1353 200.7,1349.9" fill="none" stroke="#000" stroke-width="2.4"/>
<polyline points="319.9,1390.8 328,1401 315.3,1404.1" fill="none" stroke="#000" stroke-width="2.4"/>
<line x1="190" y1="1357" x2="172" y2="1490" stroke="#000" stroke-width="2.4"/>
<polyline points="181.6,1367.0 190,1357 195.5,1368.8" fill="none" stroke="#000" stroke-width="2.4"/>
<polyline points="180.4,1480.0 172,1490 166.5,1478.2" fill="none" stroke="#000" stroke-width="2.4"/>
<text x="0" y="0" font-family="Liberation Sans, Arial, sans-serif" fill="#000" font-size="29" transform="translate(277,1346) rotate(-13.5)">45mm</text>
<text x="0" y="0" font-family="Liberation Sans, Arial, sans-serif" fill="#000" font-size="29" transform="translate(219,1395.5) rotate(18.5)">25mm</text>
<text x="0" y="0" font-family="Liberation Sans, Arial, sans-serif" fill="#000" font-size="29" transform="translate(175,1462) rotate(-90)">25mm</text>
<circle cx="312" cy="1410" r="4" fill="#c0392b"/>
</g>
</svg>
</body></html>
